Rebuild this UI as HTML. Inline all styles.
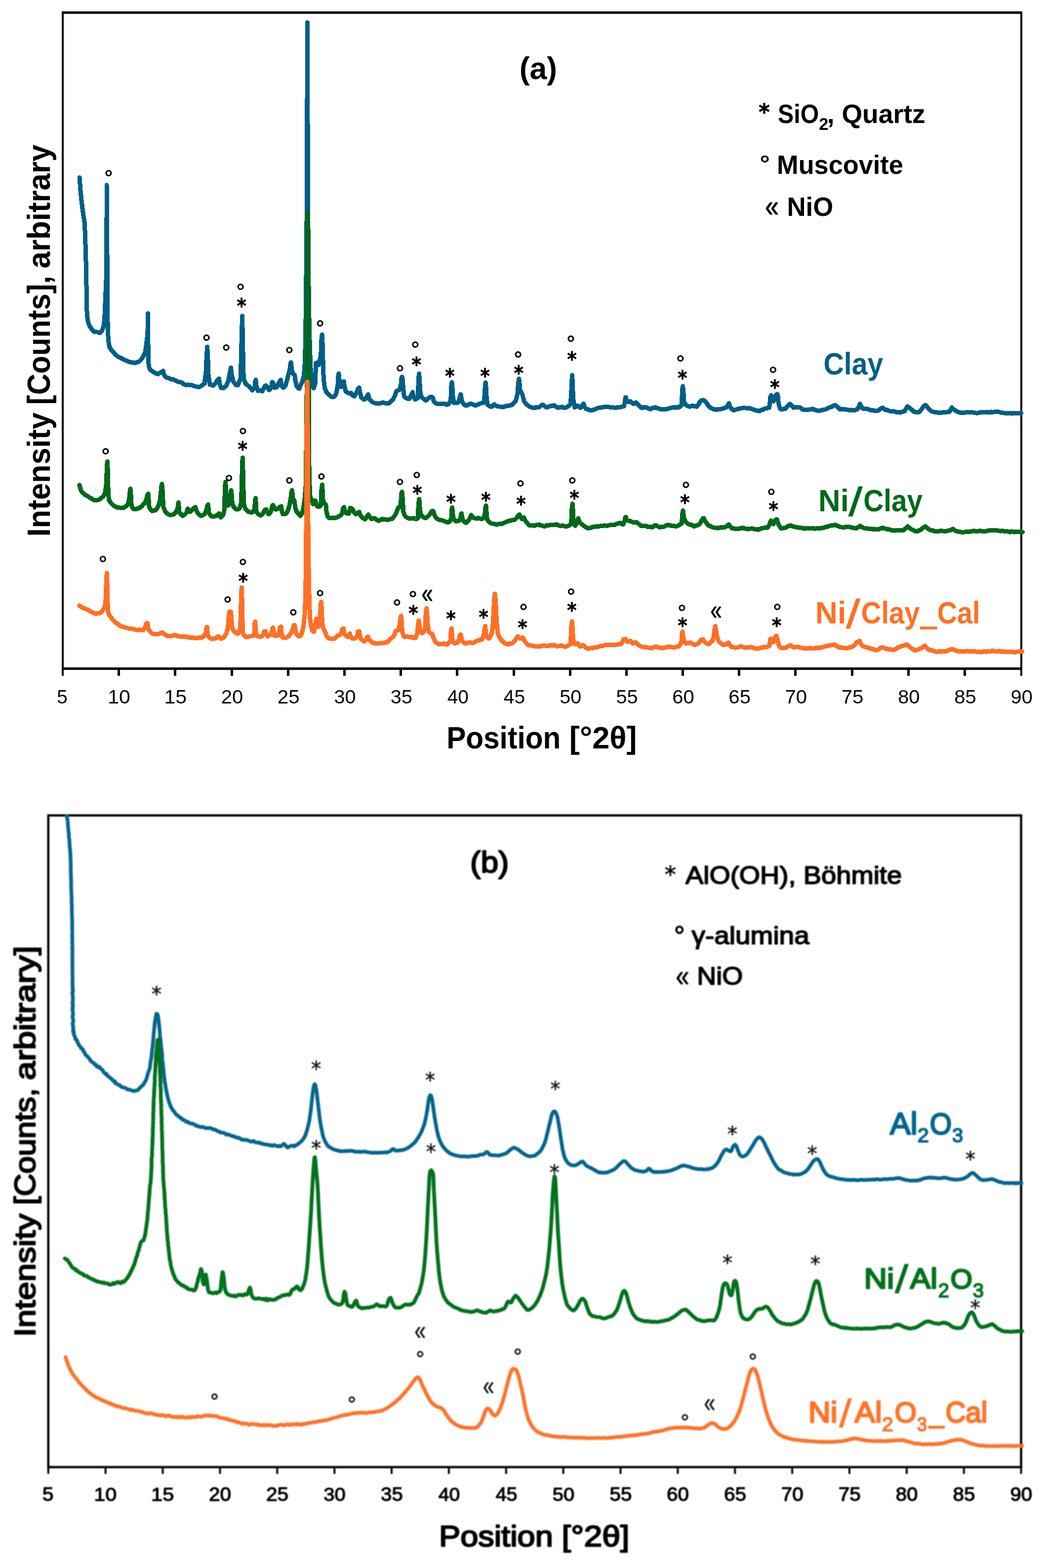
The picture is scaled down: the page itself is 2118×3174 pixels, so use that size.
<!DOCTYPE html>
<html lang="en"><head><meta charset="utf-8"><title>XRD patterns of clay and alumina supported Ni catalysts</title>
<style>html,body{margin:0;padding:0;background:#fff}body{width:2118px;height:3174px;overflow:hidden}svg{display:block}text{white-space:pre}</style></head><body>
<svg width="2118" height="3174" viewBox="0 0 2118 3174">
<rect width="2118" height="3174" fill="#fff"/>
<g id="chart-a">
<g shape-rendering="crispEdges" fill="#000">
<rect x="125" y="23" width="1945" height="5"/>
<rect x="125" y="1351" width="1945" height="5"/>
<rect x="125" y="23" width="4" height="1345"/>
<rect x="2066" y="23" width="4" height="1345"/>
<rect x="238" y="1351" width="5" height="17"/>
<rect x="352" y="1351" width="5" height="17"/>
<rect x="467" y="1351" width="5" height="17"/>
<rect x="581" y="1351" width="5" height="17"/>
<rect x="695" y="1351" width="5" height="17"/>
<rect x="809" y="1351" width="5" height="17"/>
<rect x="923" y="1351" width="5" height="17"/>
<rect x="1038" y="1351" width="5" height="17"/>
<rect x="1152" y="1351" width="5" height="17"/>
<rect x="1266" y="1351" width="5" height="17"/>
<rect x="1380" y="1351" width="5" height="17"/>
<rect x="1494" y="1351" width="5" height="17"/>
<rect x="1608" y="1351" width="5" height="17"/>
<rect x="1723" y="1351" width="5" height="17"/>
<rect x="1837" y="1351" width="5" height="17"/>
<rect x="1951" y="1351" width="5" height="17"/>
</g>
<g fill="none" stroke-linejoin="round" stroke-linecap="round" stroke-width="9.0" shape-rendering="crispEdges">
<path stroke="#005f86" d="M161.1 359.3L162.0 372.1L162.9 384.9L164.4 399.5L165.7 412.3L167.1 423.3L168.4 432.5L169.9 441.6L171.2 450.8L171.9 463.6L172.5 476.4L173.0 494.7L173.5 513.0L174.1 531.3L174.5 549.6L174.8 567.9L175.2 586.2L175.6 604.5L175.7 622.8L176.3 635.6L177.2 644.7L178.5 652.0L180.3 657.5L182.5 661.6L184.9 664.9L187.6 668.5L190.4 671.3L194.0 671.8L197.7 672.2L200.1 673.3L202.3 674.0L204.7 671.8L206.9 668.5L209.0 663.0L210.5 655.7L211.8 641.1L212.7 622.8L213.4 604.5L214.2 586.2L215.0 567.9L215.6 540.4L215.9 513.0L216.0 439.8L216.0 374.6L216.1 439.8L216.6 476.4L217.0 513.0L217.3 567.9L217.5 622.8L218.0 652.0L218.8 677.7L220.0 692.3L221.5 701.5L224.1 706.6L227.0 710.6L229.3 712.3L231.6 715.4L233.8 718.3L236.1 719.8L239.3 722.3L242.5 723.8L245.7 724.9L248.9 727.1L252.1 728.5L255.3 730.0L258.5 731.2L261.7 732.6L264.9 733.5L268.2 733.8L271.4 734.7L274.6 734.4L276.6 733.0L278.6 733.3L281.9 731.6L284.8 728.9L287.7 725.2L290.7 720.1L293.7 714.3L295.2 705.5L296.4 696.0L297.6 686.8L298.7 677.7L299.4 659.4L299.8 634.1L299.9 659.4L300.0 696.0L300.4 723.4L300.9 736.2L302.0 743.5L304.2 748.5L306.4 750.1L308.4 751.4L310.8 753.1L313.0 754.5L316.6 756.3L320.3 757.3L322.5 754.9L324.6 754.5L327.2 752.9L330.4 750.7L331.7 757.7L334.8 762.5L337.8 764.5L340.8 765.1L343.8 766.6L347.0 768.1L350.2 767.6L353.3 769.4L356.5 770.5L360.0 772.5L363.5 773.6L366.4 773.9L369.3 775.2L371.7 777.7L374.1 778.4L377.8 779.8L381.5 778.6L385.2 780.0L389.2 779.9L393.2 781.6L397.2 782.5L401.2 783.2L404.4 783.1L407.6 781.3L410.8 778.8L414.0 776.8L417.1 751.3L418.4 719.4L419.7 701.9L420.9 725.8L421.9 757.7L424.8 778.4L428.2 779.0L431.5 780.7L433.7 778.6L435.9 776.8L439.7 770.5L443.6 766.6L444.7 776.8L447.7 785.1L449.9 784.5L452.2 785.8L455.0 783.1L457.9 781.6L460.2 775.9L462.5 770.5L465.4 754.5L467.5 744.3L469.1 757.7L472.1 772.1L474.8 775.7L477.6 779.4L481.5 780.0L484.2 773.1L487.0 767.3L488.4 725.8L489.3 681.2L490.5 639.7L491.4 681.2L492.4 732.2L493.3 767.3L495.5 771.8L497.7 777.5L500.4 779.0L503.2 781.6L506.9 784.8L510.9 790.2L513.5 786.6L516.1 783.2L517.1 770.5L517.9 768.9L518.8 780.0L522.3 791.2L524.7 790.3L527.1 790.2L529.2 790.2L531.3 792.1L535.2 783.2L538.3 780.0L541.0 783.2L544.7 789.6L547.0 787.9L549.3 784.8L551.0 773.6L552.7 774.3L554.7 779.7L556.8 784.8L558.9 784.3L561.0 783.2L563.1 777.8L565.2 773.6L568.6 768.9L569.7 780.0L573.4 784.8L575.8 783.4L578.3 780.0L582.6 764.1L586.8 748.1L588.2 735.4L589.3 733.8L590.6 748.1L593.6 757.1L596.7 759.3L598.1 770.5L600.9 781.6L603.4 785.1L605.9 787.0L608.8 779.0L612.5 772.0L615.5 760.0L617.2 735.0L618.2 700.0L619.5 613.0L621.0 450.0L621.9 250.0L622.4 45.5L623.0 250.0L623.9 450.0L625.3 613.0L627.3 700.0L628.6 735.0L629.6 760.0L632.0 780.0L635.2 786.0L638.6 775.0L639.2 745.0L639.6 735.0L640.3 735.4L642.9 733.8L645.4 738.6L649.7 719.4L651.0 687.6L652.1 677.3L653.2 697.1L654.2 735.4L655.3 767.3L657.5 784.8L661.2 794.4L663.5 796.0L665.7 799.2L668.2 800.7L670.6 803.0L673.0 803.9L675.4 803.9L678.1 801.2L680.7 797.6L683.9 780.0L685.0 760.9L685.9 756.1L686.9 767.3L690.1 783.2L692.1 780.9L694.1 776.8L696.1 772.1L697.3 780.0L699.8 792.1L702.7 793.9L705.7 796.0L708.1 796.3L710.5 795.3L714.2 800.8L717.5 802.3L720.1 797.9L722.8 792.8L725.2 786.4L727.4 784.8L728.5 792.8L731.6 804.9L734.1 806.4L736.6 808.7L738.7 808.1L740.7 807.1L743.7 800.8L745.6 798.5L747.0 805.5L749.4 809.5L751.8 811.9L755.1 814.5L758.3 815.7L761.5 816.4L764.7 817.0L766.4 817.0L769.6 816.4L772.8 815.4L775.9 814.8L779.1 816.0L782.3 816.0L785.5 817.0L787.9 816.0L790.3 813.8L793.0 811.2L795.7 809.0L797.7 804.4L799.7 801.0L802.1 793.1L804.6 790.5L807.0 790.0L809.4 789.2L812.0 777.1L812.9 766.0L814.2 762.8L815.3 767.6L816.3 783.5L818.3 802.6L821.0 804.9L823.8 806.5L826.2 807.3L828.6 807.4L830.8 803.2L833.0 799.4L835.6 793.7L836.8 801.0L840.4 809.0L843.2 807.3L846.1 805.8L846.9 783.5L847.7 764.4L848.6 756.4L849.6 767.6L850.6 789.9L852.9 803.3L855.5 805.4L858.1 807.4L862.0 810.6L864.1 809.6L866.2 807.4L870.0 804.2L873.8 803.3L876.8 805.2L878.2 812.2L881.8 816.0L884.7 817.0L887.6 817.9L890.7 817.4L893.9 817.3L897.1 817.1L900.3 817.0L904.1 819.2L908.1 818.6L910.4 814.4L912.7 812.2L913.5 789.9L914.2 777.1L915.0 773.9L915.8 780.3L916.7 799.4L919.0 815.4L921.6 814.8L924.2 816.0L926.6 815.3L928.9 813.8L931.4 802.6L932.5 798.5L933.6 799.4L934.6 810.6L938.0 817.0L940.7 820.0L943.4 821.1L945.7 820.4L948.1 819.2L951.3 817.9L954.5 817.0L958.3 819.2L960.4 819.5L962.5 821.1L964.6 820.2L966.6 819.2L970.5 817.9L974.3 816.0L977.2 815.9L980.2 813.8L981.5 796.2L982.3 780.3L983.2 774.6L984.2 783.5L985.1 802.6L986.8 818.6L989.5 821.0L992.1 822.4L995.3 823.4L998.6 820.2L1000.8 818.6L1003.9 821.1L1007.1 822.4L1011.1 823.0L1015.1 823.4L1018.3 824.1L1021.5 823.4L1024.7 822.0L1027.9 821.8L1031.0 821.0L1034.2 820.2L1036.7 819.5L1039.1 817.0L1041.8 814.4L1044.4 811.6L1048.0 796.2L1049.4 777.1L1050.8 766.9L1052.1 777.1L1053.3 791.5L1056.8 796.2L1058.5 801.0L1061.1 812.2L1063.5 815.3L1065.8 818.6L1068.4 820.0L1070.9 822.4L1073.3 823.5L1075.7 824.3L1079.7 825.9L1083.7 825.6L1086.1 824.0L1088.4 824.3L1090.8 824.4L1093.2 823.4L1096.4 820.2L1099.6 819.2L1102.8 822.4L1106.0 824.3L1108.1 824.5L1110.1 823.4L1114.0 822.4L1117.8 821.1L1119.9 821.4L1121.9 820.2L1124.0 822.2L1126.1 823.4L1129.9 825.6L1133.7 824.3L1135.8 824.5L1137.9 823.4L1141.1 824.9L1144.2 825.6L1146.7 824.5L1149.1 823.4L1152.1 821.1L1155.1 818.6L1156.7 799.4L1157.6 773.9L1158.6 759.6L1159.6 777.1L1160.4 805.8L1163.7 824.9L1166.6 822.4L1169.8 821.1L1172.9 823.7L1176.1 825.6L1179.6 820.2L1181.6 817.0L1183.2 823.4L1185.2 825.6L1187.3 828.1L1189.7 828.0L1192.1 829.7L1195.3 830.8L1198.5 830.4L1202.4 829.4L1206.4 828.1L1209.6 826.3L1212.8 825.6L1216.8 825.0L1220.8 824.3L1224.0 823.8L1227.2 823.4L1231.1 823.5L1235.1 824.3L1238.3 824.3L1241.5 824.9L1243.9 825.1L1246.4 825.2L1249.6 824.9L1252.8 824.2L1255.6 824.1L1258.5 823.6L1260.9 823.0L1263.2 822.6L1265.5 813.1L1266.3 806.0L1267.1 804.1L1268.1 808.3L1270.8 813.1L1273.8 813.7L1276.7 812.4L1279.8 815.6L1283.0 817.8L1285.6 815.6L1287.8 814.7L1290.3 816.9L1292.4 819.4L1295.7 823.3L1299.0 825.8L1301.1 824.6L1303.1 825.2L1307.0 824.2L1309.4 824.8L1311.7 826.5L1314.1 826.8L1316.5 828.4L1318.9 827.3L1321.3 825.8L1323.7 825.7L1326.1 824.2L1328.5 825.6L1330.9 825.8L1333.3 827.2L1335.7 827.4L1338.1 828.5L1340.4 828.4L1342.8 828.2L1345.2 829.0L1348.4 828.9L1351.6 827.4L1354.8 827.0L1358.0 825.8L1361.2 824.7L1364.4 825.2L1367.6 824.2L1370.7 825.2L1373.1 823.7L1375.5 824.2L1377.9 822.3L1380.3 819.4L1381.1 800.3L1381.7 787.6L1382.5 781.8L1383.3 787.6L1384.3 800.3L1385.1 813.1L1388.4 819.4L1390.4 820.2L1392.4 822.0L1396.2 823.3L1399.4 822.0L1402.6 821.0L1406.5 822.6L1408.5 822.2L1410.6 823.3L1414.4 818.8L1417.2 813.1L1420.5 810.5L1424.3 809.9L1428.1 812.4L1431.0 816.2L1434.9 822.0L1437.1 824.2L1439.3 825.8L1442.0 826.8L1444.7 828.4L1447.6 828.1L1450.5 829.6L1453.6 828.3L1456.8 828.4L1460.0 827.9L1463.2 827.4L1465.6 825.9L1468.0 825.8L1471.3 824.2L1474.4 819.4L1476.0 816.2L1477.2 819.4L1479.8 825.8L1482.9 829.0L1485.5 830.6L1487.9 829.3L1490.3 829.0L1492.7 828.6L1495.1 827.4L1498.3 826.8L1501.5 826.5L1504.7 825.8L1507.9 825.8L1511.0 826.1L1514.2 826.5L1517.4 826.0L1520.6 827.4L1523.0 828.0L1525.4 829.0L1527.8 829.6L1530.2 830.6L1534.0 831.6L1536.1 831.3L1538.2 832.2L1540.5 830.1L1542.9 829.6L1545.3 829.3L1547.7 827.4L1550.1 827.0L1552.5 826.5L1555.0 825.2L1557.5 825.2L1559.2 813.1L1560.0 803.5L1561.4 800.3L1562.5 805.1L1565.9 812.4L1567.9 809.0L1570.0 805.1L1571.0 799.7L1574.2 797.8L1575.3 803.5L1576.3 816.2L1579.5 827.4L1581.9 828.8L1584.4 829.0L1587.6 827.2L1590.8 827.4L1592.8 824.1L1594.8 822.6L1597.2 819.4L1599.7 817.8L1602.8 821.0L1606.7 825.2L1609.6 824.2L1612.4 824.5L1615.2 824.8L1617.9 824.2L1619.9 824.7L1622.0 826.5L1625.8 829.0L1629.0 829.6L1632.2 829.3L1635.4 829.5L1638.6 829.0L1641.0 828.8L1643.4 828.4L1645.8 827.8L1648.2 828.4L1650.6 830.1L1652.9 830.0L1655.3 831.4L1657.7 831.6L1660.9 831.0L1664.1 830.3L1667.3 829.1L1670.5 829.0L1673.4 828.0L1676.2 826.5L1678.9 825.1L1681.6 824.2L1684.0 823.3L1686.4 822.0L1688.8 820.7L1691.2 820.1L1693.3 821.9L1695.3 823.3L1699.0 827.4L1700.0 828.5L1704.0 827.9L1708.0 829.0L1712.0 828.8L1716.0 829.3L1720.0 830.5L1724.0 829.8L1728.0 830.7L1732.0 830.1L1734.1 828.9L1736.3 828.5L1739.7 821.3L1741.3 817.3L1743.3 821.3L1746.6 826.6L1749.3 827.7L1752.0 827.4L1755.3 827.6L1758.7 828.5L1762.6 830.2L1766.6 830.1L1770.6 831.5L1774.6 832.0L1777.3 831.1L1780.0 830.6L1782.0 828.1L1784.0 826.6L1787.2 825.3L1790.1 828.0L1793.3 830.1L1796.6 829.8L1800.0 831.4L1803.3 832.8L1806.6 832.8L1810.0 832.4L1813.3 833.8L1816.6 834.9L1820.0 834.6L1823.3 835.1L1826.6 833.8L1829.3 833.0L1832.1 832.0L1835.4 825.8L1837.3 822.6L1840.5 824.8L1843.9 828.0L1845.9 828.9L1847.9 831.2L1850.0 833.2L1852.0 833.8L1856.0 834.6L1860.0 834.6L1862.1 833.6L1864.1 830.6L1866.2 828.4L1868.2 825.3L1871.2 821.3L1873.8 820.0L1876.6 822.6L1879.8 826.6L1883.4 830.1L1886.6 832.8L1889.9 833.6L1893.3 834.4L1896.6 834.6L1899.9 835.4L1903.3 835.0L1906.6 835.2L1909.9 834.3L1913.3 834.6L1915.9 834.7L1918.6 834.1L1920.7 833.6L1922.7 833.3L1926.0 827.4L1927.4 824.8L1930.0 827.4L1933.3 830.6L1935.9 831.6L1938.6 833.8L1941.9 834.1L1945.3 836.0L1949.3 835.9L1953.3 835.2L1957.3 834.5L1961.3 834.6L1964.8 834.8L1968.4 834.6L1971.9 835.2L1975.5 836.0L1979.0 836.1L1982.6 835.4L1986.6 834.2L1990.6 834.3L1994.6 834.6L1998.6 834.0L2002.6 835.1L2006.6 833.8L2009.9 834.4L2013.2 833.8L2016.6 833.5L2019.9 833.8L2023.2 833.9L2026.6 835.2L2029.9 835.9L2033.2 836.0L2036.4 836.7L2039.5 837.0L2042.6 836.2L2045.7 836.0L2048.8 837.2L2051.9 836.5L2055.9 836.9L2059.9 836.5L2063.9 836.5L2067.9 836.5"/>
<path stroke="#00691a" d="M160.8 981.9L162.4 987.3L164.1 993.1L166.7 996.7L169.3 998.5L171.8 1001.5L174.2 1002.6L177.4 1004.0L180.6 1007.1L183.8 1008.0L187.0 1010.6L189.8 1012.1L192.7 1012.2L195.4 1012.7L198.1 1012.2L200.8 1011.3L203.6 1009.6L206.0 1007.3L208.4 1005.8L210.5 1002.0L212.6 997.8L214.9 983.5L215.7 967.6L216.3 948.4L217.3 934.1L218.1 950.0L218.7 973.9L219.3 999.4L220.7 1012.2L222.9 1015.6L225.1 1018.6L228.3 1021.8L230.8 1023.8L233.2 1025.6L235.6 1025.9L238.0 1027.5L240.9 1027.7L243.7 1028.1L246.4 1027.9L249.1 1028.1L251.2 1027.3L253.3 1025.6L255.9 1024.7L258.5 1021.8L261.7 1010.6L262.7 997.8L264.1 989.2L265.1 1002.6L265.9 1018.6L267.4 1026.5L269.4 1029.5L271.5 1030.7L274.2 1030.5L276.9 1030.1L279.8 1029.0L282.6 1028.1L285.2 1025.8L287.8 1024.3L290.5 1020.5L293.1 1018.6L296.6 1010.6L298.3 1002.6L300.2 999.4L301.1 1012.2L301.9 1024.9L304.5 1031.3L308.1 1034.5L310.2 1033.3L312.3 1033.9L314.5 1032.5L316.7 1031.3L318.8 1027.0L321.0 1023.4L324.1 1012.2L325.8 996.2L327.0 983.5L327.9 979.7L328.9 989.9L329.8 1009.0L331.0 1026.5L334.4 1035.2L336.5 1037.1L338.6 1039.6L341.6 1041.5L344.0 1042.6L346.4 1042.2L348.8 1041.9L351.2 1041.5L353.2 1039.7L355.3 1037.7L357.4 1034.0L359.5 1031.3L360.4 1021.8L361.4 1017.0L362.3 1028.1L363.1 1037.7L365.2 1039.0L367.3 1042.2L370.3 1044.1L373.9 1041.5L377.8 1037.7L379.4 1031.3L380.2 1029.7L382.0 1032.9L384.7 1036.1L388.0 1032.9L391.1 1029.7L393.6 1027.5L395.8 1026.5L396.9 1031.3L399.7 1037.7L403.7 1042.2L407.0 1044.1L410.2 1043.1L414.1 1040.9L417.8 1032.9L419.6 1024.3L421.3 1021.1L422.3 1029.7L423.1 1038.3L426.5 1043.4L429.3 1045.7L431.7 1045.2L434.1 1045.4L436.5 1044.0L438.9 1044.1L441.5 1040.9L443.7 1039.3L444.5 1044.1L447.2 1047.3L449.4 1044.9L451.6 1042.5L454.2 1032.9L455.0 1005.8L455.8 983.5L456.7 975.5L457.5 989.9L458.3 1012.2L461.5 1023.4L463.6 1022.0L465.7 1018.6L466.6 1002.6L467.4 994.7L468.2 992.4L469.2 1002.6L470.3 1018.6L473.2 1026.5L477.1 1030.4L480.3 1031.3L482.6 1030.9L484.9 1029.7L488.3 1018.6L489.1 993.1L489.9 964.4L490.5 942.0L491.2 926.7L491.8 942.0L492.4 967.6L493.2 999.4L494.1 1021.8L497.0 1030.7L499.0 1032.0L501.0 1034.5L503.4 1036.3L505.8 1036.4L508.2 1037.3L510.6 1037.1L512.9 1034.7L515.2 1031.3L516.2 1018.6L517.0 1010.6L517.6 1008.4L518.4 1021.8L519.2 1036.1L521.7 1039.6L524.2 1041.5L528.2 1043.4L531.7 1040.3L535.0 1034.5L537.1 1032.0L539.3 1031.3L540.6 1036.1L544.1 1040.9L546.2 1039.0L548.2 1036.1L550.5 1028.1L551.5 1023.7L553.0 1022.4L555.0 1027.5L558.5 1031.3L561.6 1030.1L564.8 1028.1L567.4 1025.9L569.6 1024.9L570.6 1034.5L573.1 1040.9L576.0 1040.9L579.8 1039.3L581.8 1035.9L583.8 1031.3L586.4 1021.8L588.9 1007.4L590.0 996.9L591.3 992.4L592.4 1001.0L593.2 1009.0L596.1 1013.8L596.4 1016.0L597.7 1026.5L600.3 1035.2L602.4 1037.4L604.4 1040.3L607.9 1042.5L608.4 1044.5L611.0 1040.0L614.0 1030.0L617.1 1009.0L619.4 980.0L620.3 880.0L621.0 800.0L621.9 655.0L622.4 500.0L622.8 430.5L623.2 500.0L623.7 560.0L624.7 655.0L625.5 800.0L625.6 930.0L626.5 960.0L627.2 990.0L628.0 1003.0L629.8 1011.0L632.0 1013.5L633.6 1020.2L635.8 1013.8L639.0 1013.8L639.8 1019.2L642.1 1024.9L645.1 1025.6L647.2 1025.4L649.4 1023.4L650.3 1010.6L651.0 991.5L652.4 980.9L653.3 996.2L654.1 1012.2L656.9 1019.2L659.9 1021.8L660.1 1024.0L661.1 1036.1L663.9 1046.6L666.3 1048.7L668.6 1048.9L672.5 1048.9L674.9 1047.9L677.3 1048.2L679.6 1048.3L682.0 1047.3L684.1 1046.6L686.2 1045.0L688.4 1043.7L690.6 1042.5L693.8 1036.1L694.1 1030.1L696.7 1026.5L697.8 1032.9L700.3 1038.3L703.4 1039.9L706.6 1039.3L708.3 1032.9L709.1 1028.1L711.4 1028.8L713.7 1030.7L716.5 1036.1L720.3 1040.9L724.1 1038.3L727.3 1036.1L728.9 1041.5L732.8 1047.3L736.2 1049.8L739.4 1051.1L743.1 1045.7L745.8 1041.5L748.6 1046.3L752.2 1050.5L755.4 1049.8L758.6 1048.9L762.4 1052.1L764.5 1053.2L766.5 1054.3L768.6 1053.3L770.7 1052.4L774.5 1050.5L776.9 1051.8L779.3 1051.4L781.7 1051.7L784.1 1052.1L786.5 1052.2L788.9 1051.1L791.3 1050.5L793.7 1050.5L797.3 1046.6L801.1 1040.9L803.9 1034.5L805.5 1029.7L807.2 1026.9L809.4 1026.7L811.5 1024.9L812.1 1009.0L812.9 998.8L814.1 995.6L815.0 1005.8L816.0 1021.8L816.8 1036.1L820.2 1044.7L822.6 1047.1L824.9 1047.9L828.7 1049.8L831.1 1049.4L833.5 1049.2L835.9 1049.2L838.3 1048.9L841.5 1050.5L843.9 1050.5L846.3 1048.9L846.9 1031.3L847.7 1017.0L848.8 1010.0L849.6 1020.2L850.4 1031.3L851.9 1040.3L855.8 1046.0L859.3 1047.9L862.5 1048.9L865.8 1045.7L869.2 1042.5L871.9 1038.3L874.0 1035.2L876.6 1034.5L877.8 1035.5L879.2 1041.5L882.4 1047.3L884.6 1049.6L886.7 1051.1L888.8 1052.0L890.9 1053.0L893.0 1052.8L895.1 1053.6L898.9 1054.3L902.7 1056.2L904.8 1056.5L906.8 1057.5L910.4 1055.6L913.9 1050.5L914.5 1034.5L915.1 1028.1L915.8 1027.5L916.6 1036.1L917.4 1045.7L919.6 1052.1L923.1 1055.2L926.3 1054.9L929.9 1053.6L932.7 1047.3L933.6 1040.9L934.6 1039.3L935.5 1045.7L937.3 1053.6L940.9 1056.8L943.5 1058.4L947.0 1055.2L950.8 1050.5L952.7 1045.7L954.0 1042.5L956.4 1045.7L959.5 1048.9L963.3 1049.2L965.4 1049.4L967.4 1048.9L969.5 1048.7L971.6 1049.8L975.4 1050.5L977.7 1049.4L980.0 1046.6L982.3 1037.7L982.9 1028.1L984.0 1023.4L984.8 1032.9L985.6 1044.1L986.7 1052.1L990.4 1056.8L993.9 1059.1L997.7 1060.0L1000.1 1060.0L1002.5 1061.0L1004.9 1062.1L1007.3 1061.6L1010.5 1060.4L1013.7 1060.0L1016.9 1060.1L1020.1 1058.4L1023.2 1057.6L1026.4 1055.9L1029.6 1054.8L1032.8 1053.6L1035.2 1053.2L1037.6 1052.7L1040.0 1052.7L1042.4 1052.1L1045.8 1048.9L1048.9 1044.1L1051.9 1041.5L1053.6 1045.7L1056.7 1050.5L1058.7 1048.9L1060.9 1047.3L1062.7 1052.1L1065.9 1056.8L1069.2 1060.7L1071.2 1063.4L1073.9 1063.8L1076.6 1064.0L1079.5 1063.8L1082.3 1064.3L1084.7 1062.9L1087.1 1062.7L1089.5 1062.3L1091.9 1061.8L1094.8 1063.7L1097.6 1064.0L1100.3 1065.0L1103.0 1065.6L1105.8 1063.8L1108.5 1063.7L1111.3 1063.7L1114.2 1062.4L1117.1 1062.7L1119.9 1062.1L1122.7 1062.7L1125.4 1061.8L1128.1 1061.9L1130.8 1063.4L1133.7 1064.3L1136.5 1064.3L1139.4 1063.7L1142.3 1064.9L1145.0 1065.6L1147.7 1065.6L1151.5 1064.3L1154.0 1062.3L1156.5 1061.1L1157.3 1045.8L1157.9 1029.9L1159.2 1019.7L1160.0 1029.9L1160.6 1042.6L1161.2 1058.6L1164.6 1064.3L1168.4 1057.0L1169.2 1052.2L1171.0 1049.0L1172.1 1053.8L1174.9 1058.6L1178.0 1061.1L1181.2 1063.4L1185.0 1066.5L1187.1 1067.1L1189.1 1068.8L1191.2 1069.5L1193.3 1068.8L1197.1 1068.1L1199.5 1066.7L1201.9 1066.9L1204.3 1066.3L1206.7 1065.6L1209.9 1066.1L1213.1 1065.3L1216.3 1064.6L1219.4 1064.9L1222.6 1063.9L1225.8 1064.0L1229.0 1064.4L1232.2 1063.4L1235.4 1062.9L1238.6 1062.7L1241.8 1063.0L1244.9 1062.4L1247.5 1060.5L1250.1 1060.5L1252.6 1059.3L1255.2 1058.6L1258.3 1060.5L1261.5 1061.8L1265.2 1053.8L1265.5 1049.0L1267.3 1046.5L1268.3 1050.6L1271.1 1053.8L1274.0 1054.4L1276.8 1054.7L1280.0 1056.7L1283.2 1057.9L1286.4 1057.3L1289.6 1057.0L1293.4 1060.8L1295.5 1061.9L1297.6 1064.3L1300.3 1065.0L1303.0 1064.9L1305.9 1064.1L1308.7 1064.9L1311.6 1066.7L1314.5 1066.5L1317.2 1066.1L1319.9 1067.5L1322.0 1066.7L1324.0 1064.9L1326.3 1063.2L1328.5 1063.4L1332.0 1065.6L1335.8 1067.5L1338.2 1066.5L1340.6 1066.5L1343.0 1066.7L1345.4 1065.6L1348.9 1063.7L1352.7 1062.4L1356.6 1064.0L1358.9 1063.8L1361.3 1064.9L1363.7 1064.3L1366.1 1064.9L1368.5 1065.3L1370.9 1064.9L1374.7 1063.0L1377.4 1061.4L1380.0 1060.2L1381.3 1049.0L1381.9 1038.8L1383.0 1033.7L1384.0 1041.0L1384.9 1049.0L1387.5 1054.7L1390.9 1058.6L1394.5 1060.8L1398.0 1062.4L1400.4 1062.3L1402.8 1064.0L1405.2 1065.5L1407.6 1064.9L1409.6 1063.5L1411.7 1063.4L1415.6 1061.8L1419.2 1057.0L1421.5 1052.2L1423.2 1049.6L1425.1 1049.0L1426.7 1052.8L1429.4 1057.0L1432.8 1061.8L1436.3 1064.9L1438.7 1065.0L1441.1 1066.9L1443.5 1067.2L1445.8 1068.1L1448.2 1068.5L1450.6 1068.5L1453.0 1069.1L1455.4 1068.8L1458.3 1067.7L1461.1 1068.1L1463.9 1067.5L1466.6 1067.5L1469.8 1066.2L1472.0 1064.9L1473.9 1062.7L1475.8 1061.8L1478.8 1065.9L1482.5 1069.7L1485.2 1069.1L1487.9 1070.4L1490.8 1070.4L1493.7 1070.7L1496.1 1070.6L1498.5 1069.4L1500.8 1069.3L1503.2 1068.1L1505.6 1069.6L1508.0 1069.4L1510.4 1070.6L1512.8 1070.7L1515.2 1071.1L1517.6 1070.1L1520.0 1070.3L1522.4 1069.7L1525.6 1070.5L1528.7 1071.3L1531.9 1071.3L1535.1 1072.3L1537.6 1071.5L1540.0 1070.0L1543.6 1069.1L1547.1 1068.9L1550.7 1067.8L1554.3 1068.2L1558.2 1062.1L1559.3 1057.5L1561.4 1053.9L1562.9 1057.1L1565.7 1061.1L1568.8 1056.4L1570.4 1052.1L1573.2 1051.4L1574.3 1055.7L1576.2 1061.1L1579.1 1066.4L1582.1 1070.0L1585.2 1069.0L1588.2 1068.2L1590.9 1068.1L1593.6 1066.4L1595.7 1064.8L1597.9 1064.6L1601.4 1063.6L1603.7 1064.8L1606.1 1065.7L1608.7 1066.2L1611.4 1067.1L1615.0 1067.7L1618.6 1068.2L1622.1 1068.0L1625.7 1069.3L1628.7 1070.3L1631.7 1069.0L1634.6 1069.6L1637.6 1070.0L1640.6 1069.7L1643.6 1070.0L1646.5 1069.0L1649.5 1070.1L1652.5 1070.0L1655.5 1069.3L1658.5 1069.1L1661.4 1070.0L1665.0 1068.2L1668.6 1068.2L1672.1 1066.6L1675.7 1066.4L1679.6 1064.4L1683.6 1063.9L1686.3 1063.6L1689.0 1062.8L1691.8 1062.1L1694.8 1064.5L1697.9 1065.0L1701.1 1066.9L1704.3 1067.1L1707.9 1068.0L1711.4 1066.8L1715.0 1066.1L1718.6 1066.4L1722.1 1067.2L1725.7 1068.2L1729.3 1068.6L1732.9 1070.0L1735.2 1068.8L1737.5 1067.1L1739.6 1066.1L1741.8 1064.6L1743.9 1066.5L1746.1 1067.1L1748.4 1068.6L1750.7 1069.3L1753.7 1069.3L1756.7 1070.1L1759.6 1070.7L1762.6 1071.1L1765.6 1070.4L1768.6 1071.8L1771.2 1070.9L1773.9 1071.8L1776.6 1071.6L1779.3 1071.8L1781.4 1070.1L1783.6 1070.0L1787.1 1068.2L1789.5 1069.6L1791.8 1070.0L1794.5 1070.4L1797.1 1071.8L1800.7 1071.7L1804.3 1073.2L1807.9 1073.1L1811.4 1074.3L1814.4 1073.6L1817.4 1073.5L1820.4 1073.9L1823.3 1073.9L1826.3 1073.6L1829.3 1073.6L1831.6 1071.0L1834.0 1069.3L1836.1 1067.8L1838.2 1065.7L1841.7 1068.9L1845.4 1071.8L1848.0 1072.3L1850.7 1073.9L1853.4 1075.5L1856.1 1075.4L1858.4 1075.4L1860.7 1073.6L1862.9 1073.1L1865.0 1071.8L1867.2 1069.9L1869.3 1068.2L1871.6 1067.0L1873.9 1065.7L1877.5 1068.9L1881.1 1071.8L1883.7 1073.0L1886.4 1073.9L1889.1 1073.7L1891.8 1075.4L1894.8 1075.2L1897.7 1075.4L1900.7 1075.4L1904.3 1074.7L1907.9 1074.5L1911.4 1075.4L1914.6 1075.6L1917.9 1074.6L1920.9 1073.8L1923.9 1073.6L1926.8 1071.8L1929.3 1070.7L1932.9 1073.2L1936.4 1075.4L1940.0 1075.9L1943.6 1076.4L1947.1 1077.6L1950.7 1077.1L1953.7 1077.0L1956.7 1076.0L1959.6 1076.1L1962.6 1076.8L1965.6 1075.3L1968.6 1075.4L1972.1 1074.4L1975.7 1075.7L1979.3 1075.4L1982.9 1074.6L1986.4 1075.0L1990.0 1075.4L1993.6 1075.7L1997.1 1075.0L2000.7 1074.3L2003.8 1073.1L2007.0 1073.8L2010.1 1073.6L2013.2 1073.6L2016.2 1073.9L2019.2 1073.7L2022.1 1074.6L2025.7 1075.1L2029.3 1074.3L2032.9 1075.4L2035.8 1075.2L2038.8 1075.6L2041.8 1076.1L2044.8 1077.1L2047.7 1075.5L2050.7 1076.4L2054.3 1077.1L2057.9 1076.1L2061.4 1076.8L2064.4 1077.0L2067.4 1076.8L2070.4 1077.1"/>
<path stroke="#ff7026" d="M160.8 1226.0L164.0 1228.2L167.8 1230.7L170.2 1231.0L172.6 1232.3L175.0 1233.2L177.4 1233.9L179.8 1235.3L182.2 1237.1L184.6 1238.6L187.0 1239.7L190.8 1241.3L192.9 1242.2L194.9 1242.5L197.3 1241.4L199.7 1241.9L203.6 1240.3L207.4 1236.5L209.5 1232.6L211.5 1230.7L213.8 1218.0L214.4 1205.2L215.0 1186.1L215.7 1168.6L216.3 1159.9L216.9 1176.5L217.6 1202.0L218.4 1237.1L221.1 1245.1L224.7 1249.9L227.3 1253.7L229.8 1256.2L232.3 1258.2L234.8 1261.0L238.0 1262.6L241.2 1265.2L244.4 1267.8L247.6 1268.4L251.5 1269.4L255.5 1270.6L259.5 1272.1L263.5 1272.2L267.5 1272.9L271.5 1273.8L275.5 1274.9L279.4 1275.4L282.3 1274.7L285.2 1275.4L287.9 1275.3L290.6 1274.7L294.3 1269.0L295.8 1262.6L298.6 1261.0L299.5 1267.4L300.9 1274.7L304.6 1279.2L308.1 1282.4L311.0 1283.6L313.9 1283.4L316.6 1283.4L319.3 1283.4L321.7 1283.0L324.1 1281.8L326.5 1281.3L328.9 1280.2L332.7 1283.4L334.8 1284.1L336.8 1286.5L339.2 1287.4L341.6 1287.2L344.0 1287.5L346.4 1287.5L348.8 1286.6L351.2 1286.5L353.6 1285.1L356.0 1285.6L358.4 1287.3L360.8 1287.5L363.1 1288.1L365.5 1288.8L367.9 1289.1L370.3 1288.5L372.7 1289.1L375.1 1288.1L378.3 1289.4L381.5 1289.7L384.7 1291.1L387.9 1290.7L391.0 1290.8L394.2 1291.3L397.4 1291.9L400.6 1291.3L403.0 1290.9L405.4 1290.7L407.8 1291.1L410.2 1289.7L413.5 1286.5L416.7 1281.8L417.7 1273.8L418.2 1270.6L419.1 1269.0L419.9 1277.0L420.7 1286.5L423.9 1290.7L426.8 1292.3L428.8 1293.4L430.9 1292.9L433.3 1292.1L435.7 1292.9L438.9 1290.1L442.1 1288.1L444.5 1290.7L446.8 1292.9L449.4 1292.3L451.7 1291.3L455.2 1287.5L458.4 1281.8L461.2 1272.2L462.5 1259.4L463.4 1245.1L464.4 1238.7L467.6 1238.7L468.5 1249.9L469.5 1264.2L471.2 1273.8L475.1 1279.2L478.7 1281.8L481.9 1282.4L484.2 1276.6L486.5 1272.2L487.3 1249.9L488.0 1224.4L488.6 1202.0L489.3 1189.3L489.9 1205.2L490.5 1233.9L491.2 1265.8L491.8 1281.8L495.5 1287.5L498.8 1289.7L502.7 1289.1L506.5 1288.1L509.7 1287.5L512.2 1286.5L514.8 1286.5L515.4 1272.2L516.0 1261.0L516.7 1258.5L517.3 1269.0L518.0 1280.2L520.1 1286.5L523.4 1288.8L526.6 1289.1L530.5 1288.1L533.9 1282.4L534.6 1278.6L537.7 1277.9L538.7 1283.4L541.6 1288.1L544.8 1286.5L548.4 1284.3L551.1 1277.0L551.8 1272.2L553.0 1270.6L553.8 1278.6L555.2 1286.5L558.8 1287.2L562.4 1286.5L565.7 1278.6L566.7 1270.6L569.0 1268.4L569.8 1278.6L570.6 1288.1L572.6 1290.3L574.7 1290.7L577.6 1291.3L580.8 1290.1L584.1 1288.1L587.9 1283.4L591.8 1277.0L594.1 1269.6L594.6 1265.8L596.7 1265.2L597.7 1272.2L598.6 1280.2L601.6 1284.9L604.7 1288.1L607.9 1287.2L610.5 1284.0L614.5 1268.0L617.0 1245.0L618.6 1211.0L619.2 1160.0L619.9 1100.0L620.3 1015.0L620.7 888.0L621.6 800.0L622.3 772.8L622.8 800.0L623.1 888.0L623.7 1015.0L624.3 1100.0L625.2 1160.0L626.2 1211.0L627.6 1250.0L630.0 1268.0L632.6 1277.0L635.8 1279.0L639.3 1259.4L640.6 1252.4L641.5 1257.8L644.1 1269.0L647.9 1259.4L648.7 1240.3L649.5 1224.4L650.2 1218.6L651.0 1227.6L651.7 1243.5L652.5 1259.4L654.1 1270.6L657.0 1276.0L658.7 1280.2L660.7 1286.5L663.9 1290.7L666.7 1292.3L669.3 1292.9L673.1 1293.2L675.2 1293.0L677.3 1292.9L680.5 1290.1L683.7 1286.5L686.2 1285.6L688.9 1284.9L692.1 1279.2L692.6 1273.8L695.4 1272.2L696.5 1278.6L698.5 1284.9L702.1 1288.1L705.0 1289.7L707.7 1285.6L708.5 1282.4L709.6 1288.1L713.3 1292.9L717.1 1292.6L720.8 1291.3L724.2 1284.9L724.5 1278.6L727.3 1277.9L728.3 1284.9L730.4 1292.9L732.5 1294.9L734.6 1296.4L737.8 1298.3L740.8 1295.2L742.9 1291.3L745.2 1288.8L746.2 1292.3L748.6 1296.1L752.2 1299.3L755.4 1301.5L757.8 1301.5L760.2 1302.2L762.6 1302.3L764.9 1302.5L767.3 1302.1L769.7 1302.2L772.1 1301.6L774.5 1301.5L776.9 1301.4L779.3 1300.9L781.7 1300.7L784.1 1300.3L786.8 1297.1L788.9 1294.5L792.1 1292.0L795.6 1289.7L799.1 1284.3L800.6 1278.6L802.6 1276.7L806.3 1275.4L809.3 1265.8L810.5 1253.1L812.1 1246.7L812.9 1254.7L813.7 1265.8L814.5 1278.6L817.4 1288.1L819.6 1289.3L821.7 1288.8L825.5 1288.8L827.9 1289.5L830.3 1289.4L832.7 1290.4L835.1 1289.7L838.9 1291.3L841.5 1291.3L845.5 1280.2L846.3 1265.8L847.9 1256.2L848.7 1261.0L849.5 1269.0L850.4 1277.0L854.2 1281.8L857.9 1279.2L860.8 1272.2L861.6 1256.2L862.2 1240.3L863.8 1231.4L864.6 1240.3L865.4 1253.1L866.2 1267.4L868.3 1278.6L870.8 1281.2L873.3 1282.4L876.0 1284.9L877.6 1291.3L880.7 1297.7L882.9 1300.6L885.1 1301.5L887.2 1303.1L889.3 1304.1L891.7 1303.1L894.1 1303.4L896.5 1303.7L898.9 1302.5L902.1 1304.1L905.3 1304.7L908.6 1301.5L912.1 1297.7L912.7 1284.9L913.4 1275.4L914.2 1272.2L915.0 1280.2L915.8 1291.3L916.9 1299.3L920.6 1302.5L923.4 1301.8L926.8 1300.9L930.2 1292.9L930.9 1286.5L933.0 1284.3L934.0 1289.7L935.0 1296.1L938.9 1300.3L941.9 1302.5L944.0 1302.9L946.1 1301.5L949.9 1300.3L953.7 1300.9L955.8 1302.0L957.9 1301.5L959.9 1300.6L962.0 1299.3L965.8 1297.1L968.2 1296.9L970.6 1295.8L973.3 1294.6L976.0 1294.5L979.8 1284.9L980.8 1275.4L982.4 1267.4L983.2 1275.4L984.0 1284.9L986.6 1290.1L989.8 1292.9L991.9 1290.4L994.0 1286.5L996.7 1278.6L998.7 1253.1L1000.0 1227.6L1001.1 1208.4L1002.2 1202.0L1003.3 1211.6L1004.4 1233.9L1005.7 1259.4L1007.8 1281.8L1010.0 1286.7L1012.2 1291.3L1014.4 1294.1L1016.6 1297.7L1019.1 1298.7L1021.6 1301.5L1024.0 1303.2L1026.4 1303.4L1028.8 1304.4L1031.2 1303.4L1033.6 1302.1L1036.0 1302.5L1038.1 1301.5L1040.2 1299.3L1042.3 1296.7L1044.3 1294.5L1046.8 1290.4L1048.8 1288.1L1051.2 1290.7L1053.5 1292.9L1056.1 1291.3L1058.3 1290.7L1060.4 1293.9L1062.5 1297.7L1066.0 1302.5L1069.5 1305.7L1072.8 1306.6L1075.9 1306.6L1079.1 1307.9L1082.3 1308.0L1085.5 1308.9L1088.7 1308.9L1091.9 1307.9L1095.1 1308.3L1098.3 1307.3L1101.5 1306.4L1104.6 1307.3L1107.8 1307.5L1111.0 1307.3L1113.9 1305.9L1116.8 1306.3L1119.5 1306.4L1122.2 1305.7L1125.4 1307.3L1128.6 1308.9L1130.6 1307.9L1132.7 1307.6L1136.5 1306.6L1138.9 1308.0L1141.3 1307.9L1143.7 1309.3L1146.1 1308.9L1149.9 1307.3L1152.4 1305.7L1154.9 1304.1L1156.0 1288.1L1156.6 1272.2L1158.2 1257.8L1159.0 1267.4L1159.8 1278.6L1160.4 1294.5L1164.0 1304.1L1166.8 1303.1L1170.0 1302.5L1172.2 1306.0L1174.8 1308.9L1178.0 1307.0L1180.5 1305.7L1184.0 1309.2L1187.6 1312.1L1190.7 1313.2L1193.9 1312.4L1197.1 1311.8L1200.3 1312.1L1203.5 1310.4L1206.7 1310.5L1209.9 1309.9L1213.1 1308.9L1217.0 1307.1L1221.0 1307.3L1225.0 1305.9L1229.0 1305.7L1233.0 1305.5L1237.0 1305.7L1241.0 1305.9L1244.9 1305.7L1248.1 1304.7L1251.3 1305.0L1254.5 1303.6L1257.7 1304.1L1261.2 1298.3L1262.5 1294.5L1264.6 1294.5L1266.6 1292.9L1267.9 1296.1L1270.5 1299.3L1273.6 1298.0L1276.8 1297.1L1279.2 1299.9L1281.6 1302.5L1284.5 1301.2L1287.0 1300.3L1289.3 1301.8L1291.5 1304.1L1293.7 1306.6L1296.0 1307.3L1299.2 1309.0L1302.3 1309.2L1305.5 1309.6L1308.7 1310.5L1311.6 1310.9L1314.5 1311.4L1317.2 1311.8L1319.9 1312.1L1322.0 1311.4L1324.0 1310.1L1327.9 1308.9L1331.0 1310.0L1334.2 1310.8L1337.4 1311.5L1340.6 1312.1L1343.8 1311.5L1347.0 1310.5L1350.2 1310.5L1353.4 1308.9L1355.8 1309.4L1358.2 1309.8L1360.5 1310.0L1362.9 1310.5L1365.8 1310.4L1368.7 1309.5L1371.4 1308.7L1374.1 1308.9L1377.9 1304.1L1380.2 1297.7L1380.6 1288.1L1381.1 1281.1L1382.1 1278.6L1382.9 1284.9L1383.7 1291.3L1385.4 1297.7L1389.1 1302.5L1391.3 1301.5L1393.5 1301.2L1395.8 1301.7L1398.0 1300.3L1400.1 1301.7L1402.1 1303.1L1406.0 1305.7L1408.1 1305.0L1410.1 1304.1L1414.0 1302.5L1417.4 1298.3L1419.7 1295.2L1423.5 1294.5L1425.7 1297.7L1428.2 1300.9L1431.5 1302.8L1434.7 1304.1L1438.0 1301.5L1440.3 1298.6L1442.7 1297.7L1445.3 1288.1L1446.3 1278.6L1447.3 1270.6L1448.4 1267.4L1449.5 1273.8L1450.6 1281.8L1452.5 1291.3L1456.1 1299.3L1458.4 1301.0L1460.8 1303.1L1462.9 1304.6L1465.0 1305.7L1468.2 1304.7L1471.4 1304.1L1473.3 1301.8L1475.2 1300.9L1477.5 1305.7L1480.9 1309.8L1483.3 1309.2L1485.7 1310.5L1488.1 1311.0L1490.5 1311.1L1493.4 1310.7L1496.2 1309.8L1498.9 1308.5L1501.6 1308.9L1503.7 1309.8L1505.8 1310.1L1509.6 1311.1L1512.0 1310.7L1514.4 1310.5L1516.8 1310.5L1519.2 1309.8L1522.4 1310.3L1525.6 1311.4L1528.7 1312.6L1531.9 1313.0L1535.1 1313.0L1538.3 1312.1L1541.5 1310.6L1544.7 1311.1L1547.1 1309.7L1549.5 1310.1L1551.9 1309.9L1554.3 1308.9L1558.2 1307.1L1559.3 1298.2L1559.8 1293.8L1560.9 1292.9L1563.1 1297.3L1565.8 1300.0L1569.7 1291.5L1569.9 1288.4L1572.0 1287.1L1573.3 1291.5L1574.7 1296.0L1576.7 1304.9L1578.8 1309.2L1580.9 1311.6L1583.2 1311.1L1585.4 1311.6L1587.6 1311.5L1589.9 1311.6L1592.6 1310.2L1595.2 1308.5L1597.7 1307.0L1600.1 1306.2L1602.2 1307.3L1604.2 1308.9L1607.7 1310.7L1610.0 1309.9L1612.2 1309.8L1614.4 1309.3L1616.7 1309.4L1619.6 1310.5L1622.5 1311.2L1625.1 1311.4L1627.8 1312.5L1630.8 1312.3L1633.8 1313.0L1636.8 1312.5L1639.7 1311.6L1642.7 1312.6L1645.7 1312.5L1648.7 1312.7L1651.6 1311.5L1654.6 1311.6L1657.6 1310.8L1660.6 1311.6L1663.5 1310.7L1666.9 1309.3L1670.2 1308.9L1673.6 1307.4L1676.9 1307.1L1680.3 1306.3L1683.6 1305.8L1686.5 1305.8L1689.4 1304.9L1691.9 1305.7L1694.3 1308.0L1696.8 1309.0L1699.2 1310.7L1702.2 1310.5L1705.2 1311.7L1708.2 1311.2L1711.2 1311.2L1714.1 1312.2L1717.1 1311.6L1720.0 1310.3L1722.9 1310.3L1725.6 1308.8L1728.3 1308.0L1730.4 1305.7L1732.5 1302.7L1735.9 1299.1L1738.1 1299.0L1740.3 1297.3L1742.8 1302.7L1746.1 1307.1L1749.0 1308.4L1751.9 1309.8L1754.6 1310.2L1757.3 1311.6L1760.3 1311.6L1763.2 1313.2L1766.2 1313.8L1769.2 1314.0L1772.2 1315.9L1775.1 1316.1L1778.0 1315.2L1780.9 1312.9L1783.6 1311.2L1786.3 1310.7L1789.2 1311.2L1792.1 1312.5L1794.8 1313.8L1797.5 1313.8L1800.8 1314.6L1804.2 1314.7L1807.5 1315.6L1810.9 1315.2L1813.8 1313.3L1816.7 1312.1L1819.3 1310.0L1822.0 1309.4L1824.9 1307.8L1827.8 1307.1L1830.1 1307.1L1832.3 1305.8L1834.5 1304.9L1836.8 1304.9L1840.7 1308.5L1844.3 1311.6L1846.6 1312.9L1848.8 1314.7L1851.0 1315.7L1853.3 1317.0L1856.2 1315.7L1859.1 1314.7L1861.8 1313.4L1864.4 1312.5L1866.7 1311.8L1868.9 1309.4L1872.5 1307.1L1876.4 1311.6L1880.1 1315.2L1883.0 1315.4L1885.9 1317.0L1888.5 1316.6L1891.2 1318.3L1894.9 1319.2L1898.7 1319.1L1902.4 1318.3L1906.1 1319.3L1909.8 1318.2L1913.5 1318.3L1916.9 1318.1L1920.2 1316.1L1923.6 1315.8L1926.9 1313.8L1930.3 1314.4L1933.6 1316.1L1937.0 1317.7L1940.3 1318.3L1944.0 1319.0L1947.8 1318.6L1951.5 1318.3L1955.2 1318.3L1958.9 1317.9L1962.6 1318.3L1966.0 1318.2L1969.3 1318.2L1972.7 1318.1L1976.0 1319.2L1979.4 1319.5L1982.7 1319.0L1986.1 1320.2L1989.4 1319.6L1992.9 1318.3L1996.3 1319.6L1999.7 1318.3L2003.0 1318.2L2006.2 1318.3L2009.5 1317.0L2012.5 1318.1L2015.5 1318.4L2018.6 1318.1L2021.6 1318.3L2024.7 1317.7L2027.8 1319.5L2030.9 1318.7L2034.1 1319.6L2037.0 1319.2L2040.0 1320.0L2043.0 1319.6L2046.0 1319.7L2049.0 1319.5L2051.9 1319.6L2054.9 1320.4L2057.9 1319.6L2060.9 1319.2L2063.8 1318.7L2066.8 1318.4L2069.8 1318.8"/>
</g>
<g>
<text transform="translate(115.25 1423.60) scale(0.9782 1)" font-family='"Liberation Sans", sans-serif' font-size="39.60" font-weight="normal" fill="#000">5</text>
<text transform="translate(218.21 1423.60) scale(1.0354 1)" font-family='"Liberation Sans", sans-serif' font-size="39.60" font-weight="normal" fill="#000">10</text>
<text transform="translate(332.39 1423.60) scale(1.0406 1)" font-family='"Liberation Sans", sans-serif' font-size="39.60" font-weight="normal" fill="#000">15</text>
<text transform="translate(447.66 1423.60) scale(1.0101 1)" font-family='"Liberation Sans", sans-serif' font-size="39.60" font-weight="normal" fill="#000">20</text>
<text transform="translate(561.84 1423.60) scale(1.0151 1)" font-family='"Liberation Sans", sans-serif' font-size="39.60" font-weight="normal" fill="#000">25</text>
<text transform="translate(676.46 1423.60) scale(1.0003 1)" font-family='"Liberation Sans", sans-serif' font-size="39.60" font-weight="normal" fill="#000">30</text>
<text transform="translate(790.64 1423.60) scale(1.0052 1)" font-family='"Liberation Sans", sans-serif' font-size="39.60" font-weight="normal" fill="#000">35</text>
<text transform="translate(905.64 1423.60) scale(0.9814 1)" font-family='"Liberation Sans", sans-serif' font-size="39.60" font-weight="normal" fill="#000">40</text>
<text transform="translate(1019.82 1423.60) scale(0.9861 1)" font-family='"Liberation Sans", sans-serif' font-size="39.60" font-weight="normal" fill="#000">45</text>
<text transform="translate(1133.21 1423.60) scale(1.0003 1)" font-family='"Liberation Sans", sans-serif' font-size="39.60" font-weight="normal" fill="#000">50</text>
<text transform="translate(1247.39 1423.60) scale(1.0052 1)" font-family='"Liberation Sans", sans-serif' font-size="39.60" font-weight="normal" fill="#000">55</text>
<text transform="translate(1361.17 1423.60) scale(1.0101 1)" font-family='"Liberation Sans", sans-serif' font-size="39.60" font-weight="normal" fill="#000">60</text>
<text transform="translate(1475.35 1423.60) scale(1.0151 1)" font-family='"Liberation Sans", sans-serif' font-size="39.60" font-weight="normal" fill="#000">65</text>
<text transform="translate(1589.55 1423.60) scale(1.0101 1)" font-family='"Liberation Sans", sans-serif' font-size="39.60" font-weight="normal" fill="#000">70</text>
<text transform="translate(1703.73 1423.60) scale(1.0151 1)" font-family='"Liberation Sans", sans-serif' font-size="39.60" font-weight="normal" fill="#000">75</text>
<text transform="translate(1818.13 1423.60) scale(1.0052 1)" font-family='"Liberation Sans", sans-serif' font-size="39.60" font-weight="normal" fill="#000">80</text>
<text transform="translate(1932.31 1423.60) scale(1.0101 1)" font-family='"Liberation Sans", sans-serif' font-size="39.60" font-weight="normal" fill="#000">85</text>
<text transform="translate(2046.51 1423.60) scale(1.0052 1)" font-family='"Liberation Sans", sans-serif' font-size="39.60" font-weight="normal" fill="#000">90</text>
</g>
<text transform="translate(101.40 0) rotate(-90)" stroke-linejoin="round"><tspan x="-1086.27" y="0.00" font-family='"Liberation Sans", sans-serif' font-size="64.30" font-weight="bold" fill="#000" textLength="251.19" lengthAdjust="spacingAndGlyphs">Intensity</tspan> <tspan x="-819.17" y="0.00" font-family='"Liberation Sans", sans-serif' font-size="64.30" font-weight="bold" fill="#000" textLength="260.99" lengthAdjust="spacingAndGlyphs">[Counts],</tspan> <tspan x="-543.46" y="0.00" font-family='"Liberation Sans", sans-serif' font-size="64.30" font-weight="bold" fill="#000" textLength="250.93" lengthAdjust="spacingAndGlyphs">arbitrary</tspan></text>
<text stroke-linejoin="round"><tspan x="904.19" y="1515.00" font-family='"Liberation Sans", sans-serif' font-size="62.20" font-weight="bold" fill="#000" textLength="231.05" lengthAdjust="spacingAndGlyphs">Position</tspan> <tspan x="1152.82" y="1515.00" font-family='"Liberation Sans", sans-serif' font-size="62.20" font-weight="bold" fill="#000" textLength="136.81" lengthAdjust="spacingAndGlyphs">[°2θ]</tspan></text>
<text stroke-linejoin="round"><tspan x="1051.68" y="160.10" font-family='"Liberation Sans", sans-serif' font-size="62.50" font-weight="bold" fill="#000" textLength="76.27" lengthAdjust="spacingAndGlyphs">(a)</tspan></text>
<text stroke-linejoin="round"><tspan x="1536.34" y="243.44" font-family='"DejaVu Sans", "Liberation Sans", sans-serif' font-size="45.59" font-weight="bold" fill="#000" stroke="#000" stroke-width="0.8" textLength="22.44" lengthAdjust="spacingAndGlyphs">*</tspan> <tspan x="1575.05" y="249.10" font-family='"Liberation Sans", sans-serif' font-size="53.50" font-weight="bold" fill="#000" textLength="83.11" lengthAdjust="spacingAndGlyphs">SiO</tspan><tspan x="1658.19" y="263.00" font-family='"Liberation Sans", sans-serif' font-size="35.00" font-weight="bold" fill="#000" textLength="19.24" lengthAdjust="spacingAndGlyphs">2</tspan><tspan x="1674.86" y="249.10" font-family='"Liberation Sans", sans-serif' font-size="53.50" font-weight="bold" fill="#000" textLength="198.89" lengthAdjust="spacingAndGlyphs">, Quartz</tspan></text>
<text stroke-linejoin="round"><tspan x="1538.51" y="347.38" font-family='"Liberation Sans", sans-serif' font-size="46.45" font-weight="bold" fill="#000" textLength="20.38" lengthAdjust="spacingAndGlyphs">°</tspan> <tspan x="1573.10" y="352.40" font-family='"Liberation Sans", sans-serif' font-size="53.50" font-weight="bold" fill="#000" textLength="255.74" lengthAdjust="spacingAndGlyphs">Muscovite</tspan></text>
<text stroke-linejoin="round"><tspan x="1549.33" y="437.84" font-family='"Liberation Sans", sans-serif' font-size="60.51" font-weight="normal" fill="#000" stroke="#000" stroke-width="1.1" textLength="27.40" lengthAdjust="spacingAndGlyphs">«</tspan> <tspan x="1593.57" y="436.60" font-family='"Liberation Sans", sans-serif' font-size="53.50" font-weight="bold" fill="#000" textLength="93.69" lengthAdjust="spacingAndGlyphs">NiO</tspan></text>
<text stroke-linejoin="round"><tspan x="1667.51" y="758.20" font-family='"Liberation Sans", sans-serif' font-size="63.00" font-weight="bold" fill="#005f86" textLength="120.91" lengthAdjust="spacingAndGlyphs">Clay</tspan></text>
<text stroke-linejoin="round"><tspan x="1657.08" y="1034.70" font-family='"Liberation Sans", sans-serif' font-size="63.00" font-weight="bold" fill="#00691a" textLength="61.85" lengthAdjust="spacingAndGlyphs">Ni</tspan><tspan x="1718.00" y="1044.19" font-family='"Liberation Sans", sans-serif' font-size="81.22" font-weight="normal" fill="#00691a" stroke="#00691a" stroke-width="0.8" textLength="28.49" lengthAdjust="spacingAndGlyphs">/</tspan><tspan x="1748.33" y="1034.70" font-family='"Liberation Sans", sans-serif' font-size="63.00" font-weight="bold" fill="#00691a" textLength="119.79" lengthAdjust="spacingAndGlyphs">Clay</tspan></text>
<text stroke-linejoin="round"><tspan x="1650.84" y="1261.60" font-family='"Liberation Sans", sans-serif' font-size="62.80" font-weight="bold" fill="#ff7026" textLength="62.44" lengthAdjust="spacingAndGlyphs">Ni</tspan><tspan x="1713.00" y="1271.19" font-family='"Liberation Sans", sans-serif' font-size="81.22" font-weight="normal" fill="#ff7026" stroke="#ff7026" stroke-width="0.8" textLength="28.99" lengthAdjust="spacingAndGlyphs">/</tspan><tspan x="1743.85" y="1261.60" font-family='"Liberation Sans", sans-serif' font-size="62.80" font-weight="bold" fill="#ff7026" textLength="118.76" lengthAdjust="spacingAndGlyphs">Clay</tspan><tspan x="1863.31" y="1255.68" font-family='"Liberation Sans", sans-serif' font-size="145.00" font-weight="bold" fill="#ff7026" textLength="33.76" lengthAdjust="spacingAndGlyphs">_</tspan><tspan x="1897.67" y="1261.60" font-family='"Liberation Sans", sans-serif' font-size="62.80" font-weight="bold" fill="#ff7026" textLength="86.94" lengthAdjust="spacingAndGlyphs">Cal</tspan></text>
<g>
<text transform="translate(211.61 372.60) scale(1.0484 1)" font-family='"Liberation Sans", sans-serif' font-size="40.00" font-weight="bold" fill="#000">°</text>
<text transform="translate(478.81 602.80) scale(1.0484 1)" font-family='"Liberation Sans", sans-serif' font-size="40.00" font-weight="bold" fill="#000">°</text>
<text transform="translate(409.71 705.70) scale(1.0484 1)" font-family='"Liberation Sans", sans-serif' font-size="40.00" font-weight="bold" fill="#000">°</text>
<text transform="translate(449.71 725.80) scale(1.0484 1)" font-family='"Liberation Sans", sans-serif' font-size="40.00" font-weight="bold" fill="#000">°</text>
<text transform="translate(577.61 730.60) scale(1.0484 1)" font-family='"Liberation Sans", sans-serif' font-size="40.00" font-weight="bold" fill="#000">°</text>
<text transform="translate(639.71 676.60) scale(1.0484 1)" font-family='"Liberation Sans", sans-serif' font-size="40.00" font-weight="bold" fill="#000">°</text>
<text transform="translate(801.61 767.80) scale(1.0484 1)" font-family='"Liberation Sans", sans-serif' font-size="40.00" font-weight="bold" fill="#000">°</text>
<text transform="translate(832.61 720.00) scale(1.0484 1)" font-family='"Liberation Sans", sans-serif' font-size="40.00" font-weight="bold" fill="#000">°</text>
<text transform="translate(1040.81 739.70) scale(1.0484 1)" font-family='"Liberation Sans", sans-serif' font-size="40.00" font-weight="bold" fill="#000">°</text>
<text transform="translate(1147.61 707.80) scale(1.0484 1)" font-family='"Liberation Sans", sans-serif' font-size="40.00" font-weight="bold" fill="#000">°</text>
<text transform="translate(1369.61 747.90) scale(1.0484 1)" font-family='"Liberation Sans", sans-serif' font-size="40.00" font-weight="bold" fill="#000">°</text>
<text transform="translate(1556.91 770.90) scale(1.0484 1)" font-family='"Liberation Sans", sans-serif' font-size="40.00" font-weight="bold" fill="#000">°</text>
<text transform="translate(205.61 935.90) scale(1.0484 1)" font-family='"Liberation Sans", sans-serif' font-size="40.00" font-weight="bold" fill="#000">°</text>
<text transform="translate(483.41 895.40) scale(1.0484 1)" font-family='"Liberation Sans", sans-serif' font-size="40.00" font-weight="bold" fill="#000">°</text>
<text transform="translate(455.31 990.10) scale(1.0484 1)" font-family='"Liberation Sans", sans-serif' font-size="40.00" font-weight="bold" fill="#000">°</text>
<text transform="translate(577.41 994.60) scale(1.0484 1)" font-family='"Liberation Sans", sans-serif' font-size="40.00" font-weight="bold" fill="#000">°</text>
<text transform="translate(642.41 986.60) scale(1.0484 1)" font-family='"Liberation Sans", sans-serif' font-size="40.00" font-weight="bold" fill="#000">°</text>
<text transform="translate(801.61 998.10) scale(1.0484 1)" font-family='"Liberation Sans", sans-serif' font-size="40.00" font-weight="bold" fill="#000">°</text>
<text transform="translate(835.61 983.60) scale(1.0484 1)" font-family='"Liberation Sans", sans-serif' font-size="40.00" font-weight="bold" fill="#000">°</text>
<text transform="translate(1045.51 1000.60) scale(1.0484 1)" font-family='"Liberation Sans", sans-serif' font-size="40.00" font-weight="bold" fill="#000">°</text>
<text transform="translate(1150.51 995.00) scale(1.0484 1)" font-family='"Liberation Sans", sans-serif' font-size="40.00" font-weight="bold" fill="#000">°</text>
<text transform="translate(1380.61 1003.60) scale(1.0484 1)" font-family='"Liberation Sans", sans-serif' font-size="40.00" font-weight="bold" fill="#000">°</text>
<text transform="translate(1553.61 1017.80) scale(1.0484 1)" font-family='"Liberation Sans", sans-serif' font-size="40.00" font-weight="bold" fill="#000">°</text>
<text transform="translate(199.91 1153.70) scale(1.0484 1)" font-family='"Liberation Sans", sans-serif' font-size="40.00" font-weight="bold" fill="#000">°</text>
<text transform="translate(483.41 1159.90) scale(1.0484 1)" font-family='"Liberation Sans", sans-serif' font-size="40.00" font-weight="bold" fill="#000">°</text>
<text transform="translate(452.51 1236.40) scale(1.0484 1)" font-family='"Liberation Sans", sans-serif' font-size="40.00" font-weight="bold" fill="#000">°</text>
<text transform="translate(585.51 1261.90) scale(1.0484 1)" font-family='"Liberation Sans", sans-serif' font-size="40.00" font-weight="bold" fill="#000">°</text>
<text transform="translate(639.81 1223.00) scale(1.0484 1)" font-family='"Liberation Sans", sans-serif' font-size="40.00" font-weight="bold" fill="#000">°</text>
<text transform="translate(795.51 1241.80) scale(1.0484 1)" font-family='"Liberation Sans", sans-serif' font-size="40.00" font-weight="bold" fill="#000">°</text>
<text transform="translate(827.81 1224.60) scale(1.0484 1)" font-family='"Liberation Sans", sans-serif' font-size="40.00" font-weight="bold" fill="#000">°</text>
<text transform="translate(1051.81 1250.60) scale(1.0484 1)" font-family='"Liberation Sans", sans-serif' font-size="40.00" font-weight="bold" fill="#000">°</text>
<text transform="translate(1147.91 1219.50) scale(1.0484 1)" font-family='"Liberation Sans", sans-serif' font-size="40.00" font-weight="bold" fill="#000">°</text>
<text transform="translate(1372.61 1253.30) scale(1.0484 1)" font-family='"Liberation Sans", sans-serif' font-size="40.00" font-weight="bold" fill="#000">°</text>
<text transform="translate(1565.41 1251.10) scale(1.0484 1)" font-family='"Liberation Sans", sans-serif' font-size="40.00" font-weight="bold" fill="#000">°</text>
<text transform="translate(479.47 633.00) scale(0.9167 1)" font-family='"DejaVu Sans", "Liberation Sans", sans-serif' font-size="40.00" font-weight="bold" fill="#000" stroke="#000" stroke-width="0.8">*</text>
<text transform="translate(833.67 752.10) scale(0.9167 1)" font-family='"DejaVu Sans", "Liberation Sans", sans-serif' font-size="40.00" font-weight="bold" fill="#000" stroke="#000" stroke-width="0.8">*</text>
<text transform="translate(901.27 775.10) scale(0.9167 1)" font-family='"DejaVu Sans", "Liberation Sans", sans-serif' font-size="40.00" font-weight="bold" fill="#000" stroke="#000" stroke-width="0.8">*</text>
<text transform="translate(972.47 775.10) scale(0.9167 1)" font-family='"DejaVu Sans", "Liberation Sans", sans-serif' font-size="40.00" font-weight="bold" fill="#000" stroke="#000" stroke-width="0.8">*</text>
<text transform="translate(1040.67 768.70) scale(0.9167 1)" font-family='"DejaVu Sans", "Liberation Sans", sans-serif' font-size="40.00" font-weight="bold" fill="#000" stroke="#000" stroke-width="0.8">*</text>
<text transform="translate(1148.47 741.00) scale(0.9167 1)" font-family='"DejaVu Sans", "Liberation Sans", sans-serif' font-size="40.00" font-weight="bold" fill="#000" stroke="#000" stroke-width="0.8">*</text>
<text transform="translate(1372.37 778.50) scale(0.9167 1)" font-family='"DejaVu Sans", "Liberation Sans", sans-serif' font-size="40.00" font-weight="bold" fill="#000" stroke="#000" stroke-width="0.8">*</text>
<text transform="translate(1559.27 798.30) scale(0.9167 1)" font-family='"DejaVu Sans", "Liberation Sans", sans-serif' font-size="40.00" font-weight="bold" fill="#000" stroke="#000" stroke-width="0.8">*</text>
<text transform="translate(481.67 922.80) scale(0.9167 1)" font-family='"DejaVu Sans", "Liberation Sans", sans-serif' font-size="40.00" font-weight="bold" fill="#000" stroke="#000" stroke-width="0.8">*</text>
<text transform="translate(835.47 1011.80) scale(0.9167 1)" font-family='"DejaVu Sans", "Liberation Sans", sans-serif' font-size="40.00" font-weight="bold" fill="#000" stroke="#000" stroke-width="0.8">*</text>
<text transform="translate(903.47 1030.30) scale(0.9167 1)" font-family='"DejaVu Sans", "Liberation Sans", sans-serif' font-size="40.00" font-weight="bold" fill="#000" stroke="#000" stroke-width="0.8">*</text>
<text transform="translate(974.17 1025.50) scale(0.9167 1)" font-family='"DejaVu Sans", "Liberation Sans", sans-serif' font-size="40.00" font-weight="bold" fill="#000" stroke="#000" stroke-width="0.8">*</text>
<text transform="translate(1045.47 1034.10) scale(0.9167 1)" font-family='"DejaVu Sans", "Liberation Sans", sans-serif' font-size="40.00" font-weight="bold" fill="#000" stroke="#000" stroke-width="0.8">*</text>
<text transform="translate(1153.47 1022.30) scale(0.9167 1)" font-family='"DejaVu Sans", "Liberation Sans", sans-serif' font-size="40.00" font-weight="bold" fill="#000" stroke="#000" stroke-width="0.8">*</text>
<text transform="translate(1377.37 1031.00) scale(0.9167 1)" font-family='"DejaVu Sans", "Liberation Sans", sans-serif' font-size="40.00" font-weight="bold" fill="#000" stroke="#000" stroke-width="0.8">*</text>
<text transform="translate(1556.47 1044.90) scale(0.9167 1)" font-family='"DejaVu Sans", "Liberation Sans", sans-serif' font-size="40.00" font-weight="bold" fill="#000" stroke="#000" stroke-width="0.8">*</text>
<text transform="translate(482.87 1189.80) scale(0.9167 1)" font-family='"DejaVu Sans", "Liberation Sans", sans-serif' font-size="40.00" font-weight="bold" fill="#000" stroke="#000" stroke-width="0.8">*</text>
<text transform="translate(827.37 1255.10) scale(0.9167 1)" font-family='"DejaVu Sans", "Liberation Sans", sans-serif' font-size="40.00" font-weight="bold" fill="#000" stroke="#000" stroke-width="0.8">*</text>
<text transform="translate(903.47 1266.30) scale(0.9167 1)" font-family='"DejaVu Sans", "Liberation Sans", sans-serif' font-size="40.00" font-weight="bold" fill="#000" stroke="#000" stroke-width="0.8">*</text>
<text transform="translate(969.47 1263.20) scale(0.9167 1)" font-family='"DejaVu Sans", "Liberation Sans", sans-serif' font-size="40.00" font-weight="bold" fill="#000" stroke="#000" stroke-width="0.8">*</text>
<text transform="translate(1048.47 1283.60) scale(0.9167 1)" font-family='"DejaVu Sans", "Liberation Sans", sans-serif' font-size="40.00" font-weight="bold" fill="#000" stroke="#000" stroke-width="0.8">*</text>
<text transform="translate(1148.37 1249.30) scale(0.9167 1)" font-family='"DejaVu Sans", "Liberation Sans", sans-serif' font-size="40.00" font-weight="bold" fill="#000" stroke="#000" stroke-width="0.8">*</text>
<text transform="translate(1372.47 1280.30) scale(0.9167 1)" font-family='"DejaVu Sans", "Liberation Sans", sans-serif' font-size="40.00" font-weight="bold" fill="#000" stroke="#000" stroke-width="0.8">*</text>
<text transform="translate(1562.97 1279.70) scale(0.9167 1)" font-family='"DejaVu Sans", "Liberation Sans", sans-serif' font-size="40.00" font-weight="bold" fill="#000" stroke="#000" stroke-width="0.8">*</text>
<text transform="translate(853.55 1219.78) scale(0.7450 1)" font-family='"Liberation Sans", sans-serif' font-size="55.38" font-weight="normal" fill="#000" stroke="#000" stroke-width="1.0">«</text>
<text transform="translate(1438.55 1253.98) scale(0.7450 1)" font-family='"Liberation Sans", sans-serif' font-size="55.38" font-weight="normal" fill="#000" stroke="#000" stroke-width="1.0">«</text>
</g>
</g>
<defs><filter id="soft" filterUnits="userSpaceOnUse" x="0" y="1600" width="2118" height="1574" color-interpolation-filters="sRGB"><feGaussianBlur stdDeviation="1"/></filter></defs>
<g id="chart-b" filter="url(#soft)">
<rect x="97.8" y="1650.6" width="1969.8" height="1319.2" fill="none" stroke="#000" stroke-width="4.6"/>
<path d="M97.8 2969.8V2983.5M213.7 2969.8V2983.5M329.5 2969.8V2983.5M445.4 2969.8V2983.5M561.3 2969.8V2983.5M677.2 2969.8V2983.5M793.0 2969.8V2983.5M908.9 2969.8V2983.5M1024.8 2969.8V2983.5M1140.6 2969.8V2983.5M1256.5 2969.8V2983.5M1372.4 2969.8V2983.5M1488.2 2969.8V2983.5M1604.1 2969.8V2983.5M1720.0 2969.8V2983.5M1835.9 2969.8V2983.5M1951.7 2969.8V2983.5M2067.6 2969.8V2983.5" stroke="#000" stroke-width="4.0" fill="none"/>
<clipPath id="clipb"><rect x="80" y="1648.4" width="2010" height="1340"/></clipPath>
<g fill="none" stroke-linejoin="round" stroke-linecap="round" stroke-width="7.0" clip-path="url(#clipb)">
<path stroke="#04668f" stroke-width="7.5" d="M134.2 1637.9L134.3 1640.6L134.9 1643.1L134.8 1645.8L134.9 1648.3L135.5 1651.1L135.4 1653.3L135.8 1656.3L136.6 1658.3L137.1 1661.5L137.2 1663.9L137.2 1666.0L137.7 1668.6L137.7 1671.4L137.8 1674.1L138.3 1676.9L138.5 1679.4L138.7 1682.0L138.9 1684.3L139.5 1687.4L139.5 1689.8L139.4 1692.1L139.6 1694.6L140.1 1697.4L140.4 1700.0L140.7 1702.9L140.2 1705.0L141.0 1707.8L141.3 1710.3L140.9 1713.1L141.6 1715.4L141.4 1718.1L142.3 1720.9L141.9 1723.2L142.1 1725.6L142.7 1728.3L142.7 1731.1L142.6 1733.9L142.7 1736.4L142.7 1738.9L142.9 1741.4L143.4 1744.3L143.1 1747.0L143.0 1749.3L143.5 1752.0L143.1 1754.9L143.2 1757.0L143.6 1759.6L143.3 1762.0L143.2 1765.0L143.4 1767.6L143.5 1770.1L143.9 1772.7L143.7 1775.6L143.5 1777.7L144.1 1780.7L143.7 1782.9L144.1 1786.0L143.8 1788.6L144.4 1791.0L144.1 1793.2L144.0 1796.4L144.2 1798.8L144.3 1801.5L144.6 1803.8L144.4 1806.7L144.4 1808.9L144.8 1811.9L144.9 1814.2L145.2 1816.7L144.7 1819.3L145.0 1821.8L144.9 1824.6L145.2 1827.0L145.2 1830.2L145.6 1832.6L145.5 1835.2L145.2 1837.4L145.2 1840.6L145.7 1843.2L145.3 1845.6L145.6 1848.2L145.6 1851.0L145.5 1853.3L145.9 1856.2L146.0 1858.6L146.1 1861.4L145.8 1863.8L146.2 1866.5L145.9 1869.1L146.3 1871.5L146.2 1874.0L146.2 1876.8L145.9 1879.4L146.5 1882.1L146.4 1884.4L146.4 1887.1L146.2 1889.9L146.0 1892.5L146.0 1895.0L146.3 1897.3L146.5 1900.1L146.4 1903.0L146.2 1905.0L146.3 1908.0L146.2 1910.3L146.7 1913.2L146.4 1916.0L146.3 1918.4L146.3 1920.8L146.7 1923.8L146.8 1926.0L146.6 1928.6L146.3 1931.3L146.8 1934.1L146.7 1936.8L146.4 1938.9L146.6 1941.5L146.4 1944.2L146.7 1946.9L146.5 1949.7L147.0 1952.1L146.4 1954.4L146.9 1957.0L146.8 1959.9L146.6 1962.7L146.4 1964.8L146.7 1967.4L147.0 1970.1L146.5 1972.6L146.9 1975.5L146.9 1978.2L147.0 1981.0L146.9 1983.1L146.8 1985.7L146.5 1988.5L147.3 1990.3L146.4 1993.3L147.3 1996.3L147.1 1999.5L146.7 2002.2L147.7 2003.1L147.8 2007.2L146.2 2009.2L147.2 2012.9L146.7 2014.7L147.7 2017.8L147.9 2019.6L147.3 2021.5L147.5 2025.7L147.3 2028.0L146.5 2031.1L148.1 2033.9L147.2 2036.0L146.8 2038.9L147.9 2040.1L146.4 2042.9L147.3 2046.4L147.2 2047.1L147.9 2049.8L147.9 2052.7L147.1 2056.8L146.7 2057.8L147.5 2061.8L148.2 2064.4L148.4 2066.5L148.5 2068.0L147.1 2071.7L147.3 2074.9L148.1 2076.9L148.6 2079.6L147.7 2081.8L148.9 2085.7L147.9 2088.1L149.7 2089.9L149.3 2091.7L149.8 2095.0L150.6 2096.3L152.4 2099.9L152.4 2102.9L154.0 2104.4L155.6 2105.6L156.6 2108.7L158.7 2112.2L158.7 2113.3L159.8 2115.4L162.6 2118.7L163.4 2119.5L164.3 2122.4L167.2 2123.3L168.3 2125.2L168.6 2127.9L171.1 2130.2L172.1 2133.0L173.2 2135.3L174.9 2136.8L176.8 2138.0L178.9 2140.6L180.2 2142.6L182.1 2144.1L183.1 2147.3L185.7 2149.0L188.0 2151.0L190.0 2151.7L191.8 2154.7L194.2 2155.0L195.2 2158.0L197.2 2159.6L200.6 2159.0L201.3 2162.1L203.3 2162.3L206.2 2165.0L207.9 2166.1L209.0 2169.4L210.0 2170.0L213.2 2173.7L215.6 2173.5L216.6 2176.9L218.5 2178.5L219.8 2178.7L221.5 2180.3L224.4 2183.3L226.4 2184.0L227.6 2185.9L230.9 2189.5L233.1 2188.9L233.4 2192.7L236.2 2193.9L238.0 2194.7L240.4 2196.2L242.7 2196.6L245.2 2200.0L246.4 2200.3L249.9 2201.2L251.2 2201.7L254.3 2202.2L257.5 2205.0L259.6 2205.9L262.0 2205.4L264.4 2206.3L267.7 2207.7L268.9 2208.5L272.4 2208.4L275.1 2207.0L277.8 2207.4L279.7 2205.9L282.0 2203.6L284.0 2201.2L285.2 2200.5L286.3 2198.4L289.3 2197.0L290.0 2195.7L292.3 2192.1L293.5 2190.3L294.6 2187.8L296.0 2185.7L296.6 2183.3L297.7 2180.3L298.2 2178.4L298.8 2175.6L299.4 2173.0L300.5 2170.5L301.2 2168.6L302.1 2165.8L303.0 2163.3L303.6 2160.8L303.9 2157.9L304.2 2155.8L304.3 2153.4L304.7 2150.5L305.1 2147.9L305.8 2145.0L306.4 2142.7L306.5 2140.3L306.7 2137.5L307.2 2135.1L307.3 2132.6L307.6 2129.5L307.9 2127.0L308.1 2124.9L308.5 2122.4L309.0 2119.2L309.4 2117.2L309.0 2114.6L309.5 2111.7L310.1 2109.0L310.0 2106.9L310.4 2104.0L310.8 2101.6L310.7 2098.5L311.0 2096.2L310.9 2093.3L311.4 2090.8L311.6 2088.6L311.8 2085.7L312.1 2083.2L312.5 2080.7L312.9 2078.4L313.0 2075.3L312.9 2073.2L313.6 2070.4L313.7 2067.6L314.2 2065.2L314.5 2062.7L315.1 2059.8L315.3 2057.9L316.4 2055.3L316.5 2052.0L318.5 2052.7L319.6 2054.9L320.1 2057.4L320.2 2060.4L320.9 2063.0L321.1 2065.4L321.3 2067.9L321.9 2070.9L321.7 2072.9L322.4 2075.9L322.7 2078.2L322.7 2080.8L323.2 2083.5L323.3 2086.5L323.3 2088.8L323.8 2091.6L323.8 2093.8L323.9 2096.8L324.1 2098.8L324.7 2101.7L325.0 2104.1L325.4 2106.6L325.3 2109.6L325.5 2111.9L326.2 2114.7L326.2 2116.9L326.5 2119.9L326.8 2122.1L327.3 2125.0L327.7 2127.8L327.9 2130.1L328.1 2132.6L327.9 2135.2L328.6 2138.2L328.3 2140.4L328.6 2143.0L328.9 2145.6L329.0 2148.3L329.6 2150.9L329.9 2153.5L329.7 2156.2L330.4 2158.5L330.1 2161.2L330.7 2163.8L331.3 2166.5L331.5 2168.7L331.6 2171.7L331.6 2173.8L332.3 2177.0L332.2 2179.4L332.5 2182.0L333.2 2184.3L333.2 2187.2L333.8 2189.8L334.0 2192.1L334.8 2194.9L334.8 2197.4L335.4 2200.0L335.9 2202.4L336.3 2205.2L336.8 2207.8L337.3 2210.4L337.9 2212.8L338.1 2215.4L338.9 2217.7L339.3 2220.0L340.2 2223.2L340.7 2225.0L341.4 2227.7L342.2 2230.6L342.9 2232.5L343.7 2235.3L345.1 2237.3L345.6 2240.0L347.2 2242.7L348.0 2244.1L349.7 2246.3L351.3 2249.0L353.2 2250.5L354.4 2252.6L356.0 2255.2L358.0 2256.8L360.5 2258.4L361.9 2260.7L364.6 2261.4L366.3 2264.0L368.4 2264.2L370.1 2267.0L373.1 2267.2L375.1 2268.8L377.2 2271.1L379.9 2270.5L381.6 2272.1L384.4 2273.9L387.1 2274.4L389.0 2274.2L391.6 2275.3L394.5 2276.8L396.8 2278.9L399.0 2278.5L401.4 2279.9L403.7 2280.9L406.9 2281.6L408.8 2280.9L411.7 2281.2L414.1 2282.8L416.9 2283.7L419.4 2283.3L421.9 2284.0L424.5 2283.1L427.0 2283.7L429.6 2285.0L431.8 2286.4L434.3 2286.1L436.5 2287.1L439.2 2289.1L441.5 2290.0L443.7 2290.3L446.4 2292.6L449.2 2292.8L451.0 2293.0L454.0 2293.5L456.3 2294.9L458.4 2297.0L461.5 2295.9L463.8 2296.9L466.1 2298.3L468.5 2298.6L471.0 2300.3L473.3 2300.0L476.2 2301.2L478.8 2302.7L481.0 2303.0L483.6 2303.3L485.5 2304.1L488.4 2306.5L490.5 2306.5L493.5 2307.7L495.5 2307.3L498.1 2307.5L500.8 2307.8L503.6 2309.2L506.0 2310.3L508.7 2311.2L511.1 2310.1L513.7 2309.6L516.2 2312.1L519.1 2312.8L521.5 2312.8L523.6 2312.6L526.3 2314.1L528.7 2314.0L531.5 2315.7L534.2 2315.7L536.4 2316.7L539.3 2316.6L541.6 2316.9L544.1 2317.9L547.0 2317.7L549.5 2319.0L551.9 2319.6L554.6 2317.7L557.0 2318.1L559.8 2319.8L562.3 2320.8L564.9 2319.4L567.3 2320.6L569.7 2319.5L572.3 2317.4L574.6 2315.4L577.1 2317.3L578.6 2318.9L579.8 2321.1L582.5 2322.8L585.0 2321.5L587.8 2319.9L590.3 2319.2L592.6 2319.1L595.7 2320.6L598.0 2318.2L600.4 2318.1L602.4 2316.6L605.1 2314.2L606.6 2313.6L608.4 2311.7L610.7 2309.6L612.3 2307.7L614.0 2305.8L615.5 2303.3L616.7 2301.2L618.0 2299.3L618.6 2296.7L619.6 2294.5L620.4 2291.9L621.1 2289.5L622.0 2287.0L622.6 2284.4L623.2 2282.0L623.9 2279.3L624.4 2276.9L625.0 2274.1L625.6 2271.8L626.1 2269.2L626.6 2266.6L627.0 2263.9L627.2 2261.5L627.7 2258.9L628.0 2256.4L628.5 2253.7L628.8 2251.2L629.1 2248.5L629.6 2246.1L629.8 2243.5L630.1 2240.9L630.3 2238.3L630.7 2235.8L630.8 2233.2L631.1 2230.5L631.6 2227.8L631.7 2225.3L632.0 2222.7L632.4 2220.3L632.6 2217.6L632.9 2214.9L633.1 2212.5L633.5 2209.9L634.0 2207.4L634.3 2204.6L634.7 2202.3L635.3 2199.5L636.0 2197.0L636.9 2194.5L638.5 2196.3L639.0 2198.7L639.5 2201.3L640.0 2203.7L640.6 2206.3L641.0 2209.0L641.3 2211.4L641.6 2214.2L641.9 2216.5L642.1 2219.2L642.5 2221.7L642.7 2224.3L643.1 2227.0L643.3 2229.6L643.8 2232.2L643.9 2234.7L644.4 2237.3L644.6 2239.9L644.8 2242.6L645.2 2245.0L645.6 2247.5L645.9 2250.1L646.1 2252.9L646.3 2255.3L646.8 2257.9L647.0 2260.6L647.3 2263.2L647.8 2265.6L648.0 2268.3L648.4 2271.0L648.9 2273.3L649.3 2276.0L649.7 2278.6L650.3 2281.1L650.7 2283.7L651.3 2286.2L651.8 2288.7L652.3 2291.2L652.8 2293.8L653.3 2296.5L654.0 2299.0L654.6 2301.4L655.4 2303.9L656.5 2306.1L657.5 2308.7L658.7 2311.1L659.8 2313.1L661.1 2315.5L662.6 2317.7L664.1 2319.9L666.2 2321.5L668.6 2322.6L670.8 2323.9L672.7 2325.3L675.1 2326.4L677.8 2327.3L680.2 2328.1L682.6 2329.0L685.2 2329.0L687.8 2330.0L690.4 2330.5L693.0 2330.2L695.6 2330.0L698.2 2329.7L700.8 2330.4L703.4 2329.5L706.0 2330.0L708.6 2329.3L711.2 2329.4L713.7 2329.9L716.3 2330.1L718.8 2331.5L721.5 2331.5L724.0 2331.2L726.6 2331.2L729.2 2332.1L731.8 2331.3L734.4 2331.6L737.0 2331.3L739.6 2331.0L742.2 2332.0L744.9 2332.3L747.4 2332.5L749.9 2333.3L752.5 2333.5L755.1 2333.2L757.7 2333.5L760.3 2333.1L762.9 2333.4L765.5 2333.4L768.1 2333.7L770.7 2333.1L773.3 2332.9L775.9 2333.2L778.5 2332.6L781.0 2332.6L783.6 2333.0L786.3 2331.9L788.6 2331.0L790.9 2329.6L792.7 2328.1L794.8 2325.9L797.0 2326.1L799.0 2328.0L801.4 2329.2L803.9 2329.0L806.5 2329.1L809.0 2328.6L811.7 2328.1L814.2 2328.2L816.8 2327.3L819.3 2326.7L821.7 2326.0L823.8 2324.5L826.1 2323.6L828.3 2321.9L830.7 2320.3L832.5 2318.9L834.5 2317.0L836.4 2315.7L838.5 2314.0L840.4 2311.8L841.9 2310.1L843.2 2307.8L844.8 2305.8L846.4 2303.3L847.7 2301.1L849.0 2299.0L850.2 2296.8L851.6 2294.6L852.7 2292.1L853.8 2289.8L854.7 2287.5L855.6 2284.9L856.6 2282.6L857.5 2280.2L858.5 2277.7L859.3 2275.1L859.9 2272.7L860.5 2270.2L861.1 2267.7L861.8 2265.1L862.3 2262.5L862.7 2260.0L863.4 2257.5L863.7 2255.0L864.1 2252.4L864.7 2249.9L865.0 2247.3L865.6 2244.7L865.8 2242.1L866.1 2239.5L866.4 2237.0L867.0 2234.3L867.3 2231.7L867.5 2229.2L867.9 2226.6L868.5 2224.0L869.0 2221.5L870.0 2219.0L871.0 2216.9L872.7 2217.7L873.5 2220.3L874.2 2222.8L874.8 2225.4L875.3 2227.8L875.6 2230.6L876.0 2233.1L876.5 2235.7L876.9 2238.3L877.1 2240.8L877.5 2243.3L877.8 2245.8L878.3 2248.5L878.5 2251.0L878.9 2253.5L879.4 2256.1L879.6 2258.6L880.0 2261.4L880.4 2263.9L881.0 2266.5L881.2 2269.1L881.8 2271.5L882.1 2274.2L882.7 2276.7L883.1 2279.2L883.6 2281.8L884.0 2284.5L884.6 2287.0L885.1 2289.5L885.7 2292.1L886.3 2294.7L886.7 2297.1L887.5 2299.5L888.1 2302.0L889.0 2304.7L889.9 2306.9L890.9 2309.4L891.9 2311.8L893.2 2314.3L894.2 2316.5L895.5 2318.5L896.9 2321.0L898.7 2322.8L900.1 2324.7L902.0 2326.9L903.8 2328.6L905.9 2330.6L907.7 2332.0L909.9 2333.8L912.2 2334.9L914.4 2336.2L916.8 2336.9L919.1 2337.7L921.8 2338.6L924.2 2339.2L926.7 2339.6L929.3 2340.1L931.9 2340.5L934.4 2340.9L937.0 2340.8L939.6 2340.6L942.3 2340.9L944.8 2340.8L947.5 2341.7L950.0 2341.4L952.6 2340.6L955.3 2340.3L957.8 2340.3L960.4 2340.1L963.0 2340.1L965.6 2339.8L968.1 2339.2L970.7 2338.0L973.1 2337.4L975.7 2336.9L978.3 2337.1L980.6 2335.8L982.4 2333.9L984.8 2332.1L986.9 2332.0L988.7 2333.9L990.2 2335.9L992.2 2337.8L994.6 2337.9L997.1 2338.5L999.7 2338.4L1002.3 2338.4L1004.9 2338.8L1007.5 2339.0L1010.1 2339.3L1012.6 2338.6L1015.1 2337.6L1017.8 2337.0L1020.1 2336.4L1022.7 2335.4L1025.1 2334.6L1027.2 2332.9L1028.9 2331.2L1031.0 2329.6L1032.7 2327.9L1034.8 2326.1L1036.9 2324.9L1039.1 2323.6L1041.6 2323.0L1043.8 2324.2L1046.2 2325.6L1048.4 2326.4L1050.7 2327.7L1052.6 2329.7L1054.8 2331.2L1056.5 2332.8L1058.9 2334.3L1060.9 2335.8L1063.2 2337.0L1065.5 2338.7L1068.0 2339.4L1070.4 2340.2L1072.9 2340.9L1075.5 2340.4L1078.1 2340.1L1080.7 2339.6L1083.2 2339.1L1085.3 2337.3L1087.4 2336.0L1089.4 2334.4L1091.5 2332.5L1093.2 2331.2L1095.0 2328.8L1096.4 2326.9L1097.6 2324.6L1098.7 2322.4L1100.0 2319.8L1101.2 2317.6L1102.3 2315.2L1103.2 2312.7L1104.1 2310.1L1104.8 2307.8L1105.4 2305.4L1106.1 2302.8L1106.8 2300.1L1107.3 2297.7L1107.8 2295.2L1108.6 2292.6L1109.1 2290.2L1109.9 2287.7L1110.4 2285.2L1111.0 2282.4L1111.5 2279.9L1112.0 2277.4L1112.9 2275.1L1113.3 2272.3L1114.0 2270.0L1114.7 2267.5L1115.2 2265.0L1115.8 2262.4L1116.6 2259.9L1117.1 2257.3L1118.1 2254.7L1119.1 2252.4L1120.7 2250.3L1122.9 2249.5L1124.5 2250.9L1125.9 2253.3L1126.8 2255.6L1128.0 2258.2L1128.5 2260.5L1129.3 2263.2L1129.8 2265.7L1130.1 2268.2L1130.5 2270.9L1131.0 2273.5L1131.4 2275.9L1131.9 2278.6L1132.2 2281.1L1132.6 2283.7L1133.0 2286.3L1133.4 2288.9L1133.8 2291.4L1134.3 2293.9L1134.6 2296.5L1134.9 2299.0L1135.3 2301.6L1135.7 2304.4L1136.0 2306.9L1136.5 2309.3L1136.8 2311.9L1137.3 2314.5L1137.6 2317.1L1138.1 2319.8L1138.5 2322.2L1138.8 2324.9L1139.3 2327.3L1140.0 2329.9L1140.7 2332.4L1141.3 2335.1L1141.7 2337.5L1142.5 2339.9L1143.3 2342.4L1144.2 2344.9L1145.4 2347.4L1146.7 2349.4L1148.2 2351.7L1149.7 2353.9L1151.4 2355.4L1153.7 2356.9L1156.1 2358.3L1158.5 2358.5L1161.0 2359.2L1163.8 2358.9L1166.0 2358.5L1168.4 2357.3L1170.5 2356.1L1172.9 2354.7L1174.8 2353.0L1176.9 2351.8L1179.5 2351.1L1181.2 2352.2L1182.9 2354.4L1184.4 2356.5L1186.1 2358.4L1187.9 2360.2L1190.1 2361.2L1192.6 2362.5L1195.1 2363.6L1197.3 2364.5L1199.6 2366.0L1201.9 2367.3L1204.3 2368.4L1206.5 2369.8L1208.8 2371.4L1210.9 2372.5L1213.6 2373.5L1216.0 2372.8L1218.6 2374.0L1221.3 2374.0L1223.8 2373.8L1226.4 2373.2L1228.9 2373.5L1231.5 2372.6L1233.8 2371.4L1236.2 2370.3L1238.6 2369.9L1241.0 2368.4L1243.4 2367.3L1245.6 2365.6L1247.4 2364.1L1249.3 2362.0L1251.3 2360.2L1253.0 2358.4L1254.9 2356.6L1256.7 2354.7L1258.4 2353.2L1260.5 2351.5L1263.0 2350.2L1265.3 2350.4L1267.4 2352.3L1269.2 2354.1L1271.0 2356.2L1272.5 2358.1L1274.6 2359.8L1276.3 2362.2L1278.0 2363.8L1280.1 2365.2L1282.4 2366.7L1284.7 2367.8L1287.1 2369.0L1289.5 2369.2L1292.0 2370.0L1294.7 2370.7L1297.3 2371.0L1299.8 2371.5L1302.4 2372.0L1305.1 2370.9L1307.5 2370.7L1309.9 2369.3L1311.5 2367.6L1313.2 2365.6L1315.6 2366.0L1317.1 2367.6L1318.7 2370.1L1320.7 2370.9L1323.2 2371.9L1325.8 2372.8L1328.4 2372.0L1331.0 2372.6L1333.5 2372.6L1336.1 2372.6L1338.7 2372.3L1341.4 2371.8L1343.8 2372.4L1346.5 2371.6L1349.0 2370.7L1351.5 2371.2L1354.1 2370.6L1356.6 2369.5L1359.2 2369.2L1361.6 2368.5L1364.1 2366.9L1366.5 2366.2L1369.0 2365.6L1371.2 2364.3L1373.6 2363.3L1375.8 2362.1L1378.2 2360.9L1380.6 2359.7L1383.2 2359.2L1385.9 2359.5L1388.4 2360.1L1391.0 2360.6L1393.5 2361.3L1396.1 2361.9L1398.4 2362.7L1400.8 2363.9L1403.4 2364.2L1405.8 2365.4L1408.4 2365.7L1411.0 2366.0L1413.6 2366.8L1416.2 2366.5L1418.8 2366.5L1421.4 2366.5L1423.9 2367.5L1426.5 2367.3L1429.2 2367.0L1431.7 2366.4L1434.4 2366.9L1437.0 2365.7L1439.5 2365.1L1441.6 2364.3L1444.0 2362.7L1446.1 2361.5L1448.1 2359.9L1449.8 2357.6L1451.5 2355.8L1452.8 2353.8L1454.4 2351.3L1455.6 2349.0L1456.9 2346.8L1458.0 2344.5L1459.1 2342.2L1460.2 2339.8L1461.4 2337.6L1462.8 2335.1L1464.0 2333.1L1465.3 2330.8L1466.9 2328.7L1468.8 2327.4L1471.4 2326.7L1473.6 2328.1L1475.9 2329.3L1478.0 2330.6L1480.4 2330.2L1481.8 2327.8L1482.6 2325.3L1483.4 2323.1L1484.4 2320.8L1486.4 2318.4L1488.7 2317.1L1490.4 2319.1L1491.8 2321.5L1492.7 2323.9L1493.5 2326.3L1494.2 2328.9L1495.4 2331.4L1496.3 2333.8L1497.2 2336.0L1498.6 2338.2L1500.6 2339.8L1502.8 2340.9L1505.4 2340.9L1507.8 2339.7L1510.0 2338.7L1512.1 2336.9L1513.5 2334.8L1515.1 2332.9L1516.7 2330.9L1518.1 2328.6L1519.4 2326.4L1520.5 2324.0L1522.1 2321.9L1523.5 2319.7L1525.0 2317.2L1526.2 2315.4L1527.4 2312.8L1529.0 2310.9L1530.1 2308.3L1531.8 2306.5L1533.3 2304.4L1535.5 2303.1L1537.9 2301.8L1540.4 2303.6L1542.4 2304.9L1543.8 2306.9L1545.0 2309.3L1546.4 2311.5L1547.7 2313.8L1548.8 2316.2L1549.7 2318.7L1550.8 2320.8L1551.9 2323.3L1553.2 2325.5L1554.2 2328.0L1555.4 2330.3L1556.6 2332.7L1557.7 2334.8L1558.9 2337.2L1560.2 2339.6L1561.4 2341.9L1562.3 2344.3L1563.5 2346.4L1564.7 2349.0L1565.9 2351.1L1567.3 2353.7L1568.4 2355.6L1570.0 2358.0L1571.3 2360.2L1572.8 2362.1L1574.5 2364.3L1576.2 2366.3L1578.1 2367.7L1580.4 2368.8L1582.9 2370.1L1585.0 2371.9L1587.6 2373.0L1589.8 2373.9L1592.2 2374.6L1594.9 2374.8L1597.2 2376.0L1599.9 2376.6L1602.5 2376.7L1605.0 2376.8L1607.5 2378.1L1610.1 2377.4L1612.8 2377.3L1615.3 2377.4L1617.9 2377.5L1620.4 2376.9L1623.0 2376.0L1625.5 2374.7L1627.6 2373.7L1629.8 2372.7L1632.0 2370.8L1633.5 2368.9L1635.4 2366.9L1637.1 2365.3L1638.5 2363.0L1640.1 2360.8L1641.3 2358.8L1643.0 2356.2L1644.3 2354.2L1645.6 2352.0L1647.4 2350.3L1649.2 2348.1L1651.3 2347.1L1653.9 2346.1L1656.1 2346.7L1657.8 2348.7L1659.2 2350.8L1660.6 2353.2L1661.6 2355.7L1662.5 2358.0L1663.8 2360.5L1664.7 2362.8L1665.8 2365.1L1667.1 2367.4L1668.4 2369.9L1669.7 2371.8L1671.0 2374.3L1672.5 2376.1L1674.5 2377.9L1676.6 2379.3L1679.0 2380.6L1681.2 2381.7L1683.8 2381.9L1686.4 2382.8L1688.8 2383.3L1691.1 2384.4L1693.7 2385.1L1696.3 2385.6L1698.7 2386.2L1701.3 2386.8L1704.0 2386.9L1706.5 2387.0L1709.1 2387.4L1711.7 2388.3L1714.2 2388.5L1716.9 2388.0L1719.5 2388.8L1722.1 2388.2L1724.6 2388.8L1727.2 2388.2L1729.8 2388.1L1732.5 2388.9L1735.1 2389.1L1737.6 2388.9L1740.2 2388.9L1742.9 2388.0L1745.5 2388.1L1748.0 2388.9L1750.6 2388.3L1753.2 2388.5L1755.8 2388.5L1758.5 2388.1L1761.0 2388.0L1763.6 2388.3L1766.2 2387.4L1768.8 2387.8L1771.4 2388.2L1774.0 2387.0L1776.6 2386.9L1779.2 2387.7L1781.8 2387.8L1784.4 2387.9L1787.0 2387.3L1789.6 2387.0L1792.2 2386.7L1794.8 2386.7L1797.4 2387.2L1800.0 2386.6L1802.6 2386.1L1805.1 2386.3L1807.8 2386.4L1810.3 2386.0L1813.0 2384.9L1815.5 2385.1L1818.1 2385.1L1820.7 2384.5L1823.3 2385.1L1825.6 2386.3L1828.2 2386.9L1830.7 2387.5L1833.1 2388.5L1835.6 2388.8L1838.2 2388.8L1840.8 2389.7L1843.4 2390.0L1846.0 2389.8L1848.6 2389.9L1851.2 2389.4L1853.8 2390.0L1856.4 2389.5L1859.0 2389.6L1861.6 2388.3L1864.0 2388.4L1866.5 2386.8L1869.0 2385.8L1871.3 2385.4L1873.9 2384.9L1876.5 2384.1L1879.1 2384.2L1881.7 2383.8L1884.2 2383.3L1886.8 2384.5L1889.5 2383.7L1892.0 2384.2L1894.6 2384.6L1897.2 2384.8L1899.8 2385.2L1902.4 2385.0L1905.0 2384.8L1907.6 2384.8L1910.2 2383.9L1912.8 2383.7L1915.3 2384.3L1917.9 2384.5L1920.6 2385.9L1923.0 2386.1L1925.5 2387.1L1928.1 2386.8L1930.7 2387.8L1933.3 2387.5L1935.9 2388.2L1938.5 2388.1L1941.1 2387.5L1943.7 2387.2L1946.2 2386.8L1948.8 2386.3L1951.1 2385.7L1953.6 2384.4L1956.1 2383.2L1958.0 2382.1L1960.3 2380.4L1962.1 2378.7L1964.2 2376.8L1966.3 2375.6L1968.5 2374.2L1970.9 2374.3L1972.8 2376.0L1974.8 2377.9L1976.6 2379.5L1978.3 2381.2L1980.5 2382.9L1982.2 2384.8L1984.2 2386.8L1986.6 2387.8L1989.0 2388.5L1991.7 2389.0L1994.3 2388.5L1996.9 2388.5L1999.5 2388.0L2002.0 2387.9L2004.6 2387.3L2007.2 2386.6L2009.8 2386.8L2012.4 2388.0L2014.6 2388.8L2017.0 2389.8L2019.3 2390.9L2022.0 2391.9L2024.3 2392.8L2026.8 2392.8L2029.4 2393.7L2032.0 2394.7L2034.5 2394.9L2037.1 2394.8L2039.7 2394.4L2042.3 2395.0L2044.9 2394.7L2047.5 2394.8L2050.1 2394.4L2052.7 2395.2L2055.3 2394.7L2057.9 2395.5L2060.5 2394.6L2063.1 2394.4L2065.7 2395.3L2068.3 2395.0"/>
<path stroke="#00721c" stroke-width="7.7" d="M131.3 2547.6L133.5 2549.3L135.9 2549.7L137.2 2551.9L139.0 2554.5L140.8 2556.5L142.1 2558.7L143.2 2560.6L144.7 2563.3L146.2 2565.2L148.1 2566.9L150.4 2568.1L152.9 2569.0L154.2 2572.2L156.8 2572.3L159.4 2575.3L160.6 2575.8L162.8 2577.0L165.6 2578.0L167.9 2579.0L169.7 2581.8L172.3 2582.1L174.9 2583.2L177.0 2583.3L179.7 2586.5L182.2 2587.1L183.9 2587.8L186.5 2589.6L188.3 2589.8L190.9 2591.5L193.7 2592.4L195.5 2594.1L198.3 2594.1L200.7 2594.5L203.4 2596.0L205.8 2595.8L208.4 2596.8L210.8 2596.2L213.5 2597.9L215.8 2598.0L218.5 2597.9L221.2 2600.2L223.9 2600.4L226.4 2600.0L228.9 2597.3L231.7 2599.0L233.8 2596.6L236.8 2596.3L239.1 2594.8L241.8 2596.4L244.5 2597.5L247.0 2594.2L249.3 2595.5L252.0 2593.8L253.3 2591.8L255.3 2590.0L256.7 2588.4L258.8 2585.3L259.7 2583.9L261.0 2581.7L262.5 2579.2L263.9 2576.5L264.7 2574.2L266.2 2572.3L266.9 2570.1L268.2 2567.1L269.3 2565.4L270.3 2562.7L271.6 2560.6L272.3 2557.6L273.0 2555.6L274.0 2552.9L274.4 2550.2L275.5 2547.9L275.7 2545.5L277.2 2543.1L277.9 2540.7L278.4 2538.1L279.1 2535.1L279.8 2532.8L281.0 2530.6L281.4 2528.0L281.9 2525.5L283.0 2522.9L283.4 2520.4L284.3 2518.1L285.0 2515.2L286.2 2513.4L288.3 2511.9L291.0 2510.4L291.2 2508.2L292.2 2505.5L293.0 2503.1L293.3 2500.6L294.4 2497.8L294.5 2495.4L294.8 2493.0L295.2 2490.8L295.7 2488.0L295.8 2485.3L296.4 2483.0L296.5 2480.1L297.3 2477.8L297.1 2475.0L297.8 2472.3L298.1 2469.9L298.6 2467.3L298.6 2464.6L298.9 2461.9L299.0 2459.4L299.1 2456.6L299.2 2454.3L299.5 2451.4L300.1 2449.0L300.4 2446.6L300.2 2444.2L300.7 2441.2L300.4 2438.8L301.1 2436.2L301.3 2433.5L301.4 2430.8L301.5 2428.3L301.7 2425.7L302.2 2423.0L302.0 2420.4L302.7 2418.0L302.3 2415.7L303.1 2413.1L302.9 2410.4L303.1 2407.4L303.7 2405.3L303.4 2402.7L303.5 2399.7L304.0 2399.2L304.5 2397.6L304.8 2394.7L304.9 2392.2L305.5 2389.8L305.2 2387.2L305.6 2384.5L305.7 2382.0L306.0 2379.3L306.0 2376.7L306.2 2374.1L306.1 2371.5L306.4 2368.8L306.7 2366.3L306.8 2363.9L306.9 2361.3L306.7 2358.5L306.9 2356.1L307.2 2353.1L306.8 2350.5L306.9 2347.9L306.9 2345.4L307.1 2343.1L307.6 2340.7L307.9 2337.9L308.0 2334.8L307.6 2332.9L307.9 2329.8L308.2 2327.3L308.2 2324.6L308.1 2321.9L308.4 2319.9L308.8 2317.2L308.9 2314.3L308.5 2312.1L308.9 2309.3L308.6 2306.4L309.0 2304.1L309.3 2301.6L309.1 2298.7L309.5 2296.5L309.4 2293.4L309.5 2291.0L309.5 2288.2L309.5 2285.9L309.4 2283.2L310.1 2280.8L309.7 2277.9L309.6 2275.6L310.1 2272.6L310.1 2270.3L310.2 2267.5L310.1 2264.9L310.6 2262.3L310.3 2259.8L310.2 2257.1L310.3 2254.5L310.4 2251.9L310.9 2249.3L310.6 2246.9L310.7 2244.2L310.9 2241.3L311.0 2238.7L310.8 2236.6L311.4 2233.9L310.9 2231.2L311.1 2228.9L311.2 2225.8L311.6 2223.5L311.6 2220.8L312.0 2218.2L312.1 2215.6L311.9 2212.9L312.2 2210.6L312.1 2207.9L312.5 2205.3L312.6 2202.7L312.8 2200.0L312.7 2197.1L313.2 2195.1L313.0 2192.6L313.5 2189.4L313.6 2187.0L313.3 2184.3L313.5 2181.6L313.4 2179.0L313.7 2176.5L313.7 2174.3L314.0 2171.5L314.3 2169.2L314.1 2166.1L314.7 2164.0L314.9 2161.1L314.6 2158.3L315.1 2156.1L315.0 2153.5L315.0 2150.7L315.6 2147.9L315.6 2145.3L315.9 2143.2L315.9 2140.3L315.7 2137.7L316.1 2135.1L316.1 2132.9L316.6 2130.0L317.0 2127.7L317.1 2124.8L317.5 2122.1L317.7 2119.3L317.9 2117.0L318.0 2114.8L318.0 2111.8L318.7 2109.4L318.8 2106.9L319.6 2104.8L320.6 2105.9L320.7 2108.3L320.8 2110.9L321.6 2113.5L321.5 2116.1L322.0 2119.0L321.6 2121.8L322.2 2124.5L321.9 2126.7L322.3 2129.2L322.4 2132.1L322.7 2134.8L322.8 2137.0L323.0 2139.7L322.7 2142.0L323.1 2144.8L322.9 2147.5L323.2 2150.0L323.4 2152.8L323.5 2155.7L323.9 2157.8L324.0 2160.4L324.1 2162.8L323.8 2166.0L324.1 2168.5L323.9 2170.7L324.5 2173.2L324.1 2176.1L324.6 2178.8L324.8 2181.5L324.5 2184.2L324.6 2186.2L325.1 2189.4L325.0 2191.7L324.7 2194.1L324.7 2196.6L325.1 2199.8L325.5 2202.1L325.4 2204.7L325.6 2207.4L325.8 2210.1L325.7 2212.5L325.4 2215.1L325.7 2217.4L325.6 2220.2L325.7 2223.0L325.9 2225.8L326.2 2228.1L326.1 2230.6L326.0 2233.6L326.6 2236.0L326.5 2238.2L326.5 2240.8L326.4 2243.7L326.4 2246.1L326.8 2248.9L327.0 2251.2L326.6 2254.4L327.0 2256.8L327.0 2259.0L327.4 2261.9L327.4 2264.2L327.1 2267.1L327.1 2269.9L327.2 2272.0L327.2 2274.7L327.9 2277.7L327.7 2280.0L327.4 2282.9L327.5 2285.0L327.8 2288.1L327.7 2290.2L328.3 2292.7L328.2 2295.4L328.0 2298.0L328.2 2301.1L328.5 2303.5L328.1 2305.8L328.3 2308.8L328.8 2310.9L328.5 2314.2L328.4 2316.2L328.6 2319.3L328.6 2321.8L328.6 2324.3L328.7 2326.9L329.2 2329.7L329.0 2332.4L329.1 2334.9L329.5 2337.6L329.0 2339.7L329.5 2342.7L329.2 2345.2L329.4 2347.3L329.2 2349.9L329.4 2353.1L329.8 2355.7L330.0 2358.0L329.9 2360.7L330.0 2362.9L330.2 2365.6L329.9 2368.5L330.2 2371.2L330.0 2373.5L330.3 2375.9L330.5 2378.7L330.3 2381.3L330.6 2383.8L330.4 2386.3L330.5 2389.3L331.4 2391.4L331.4 2394.3L331.5 2396.9L331.5 2399.5L331.8 2401.8L331.9 2405.0L332.4 2407.7L332.7 2410.1L332.5 2412.3L333.1 2415.2L333.1 2417.5L333.3 2420.3L333.0 2422.7L333.8 2425.6L333.4 2427.8L334.0 2430.6L334.0 2433.0L334.0 2435.9L334.3 2438.3L334.3 2441.0L334.4 2443.4L334.9 2445.9L335.2 2449.0L335.4 2451.7L335.2 2454.0L335.5 2456.3L336.0 2458.9L336.2 2461.9L336.4 2464.1L336.5 2467.3L336.6 2469.7L336.7 2472.2L337.0 2474.8L337.0 2477.3L337.3 2480.0L337.7 2482.8L337.4 2485.3L337.6 2487.7L338.0 2490.5L337.9 2492.7L338.2 2495.6L338.4 2498.2L339.1 2500.7L338.9 2503.4L339.2 2505.8L339.3 2508.6L339.6 2511.4L339.9 2513.8L340.5 2516.6L340.1 2519.1L340.4 2521.7L341.1 2523.8L341.3 2526.6L341.4 2529.3L341.7 2531.9L342.1 2534.0L342.4 2537.1L342.9 2539.5L343.0 2541.8L343.2 2544.9L343.4 2547.5L343.9 2549.7L344.7 2552.0L345.0 2555.1L345.4 2557.3L345.6 2560.4L346.1 2562.7L347.0 2565.0L347.5 2567.8L347.9 2570.0L349.1 2572.5L349.5 2575.2L350.6 2578.0L351.6 2580.2L352.4 2582.1L353.4 2584.8L354.5 2587.2L355.2 2589.5L357.2 2591.8L358.7 2593.2L360.1 2595.3L362.2 2596.8L364.7 2598.8L365.9 2600.1L368.7 2602.1L371.3 2602.1L373.8 2604.9L375.7 2605.5L377.8 2605.7L379.6 2608.7L382.7 2609.2L384.7 2610.5L387.1 2610.5L389.5 2610.8L392.1 2612.4L394.9 2611.4L395.7 2609.4L396.8 2606.7L397.8 2604.5L397.9 2601.6L398.7 2599.4L399.3 2596.9L400.3 2594.0L400.9 2591.7L401.0 2588.9L401.7 2586.8L402.7 2583.9L403.8 2582.0L404.3 2579.3L404.9 2576.8L405.7 2574.2L406.1 2571.2L407.1 2568.7L407.9 2569.7L408.2 2571.9L408.8 2574.6L408.8 2577.0L409.5 2579.8L409.3 2582.4L410.0 2584.9L410.3 2587.3L410.1 2590.3L410.3 2592.4L410.6 2595.5L411.6 2597.5L412.5 2599.9L413.5 2599.5L413.8 2597.4L414.0 2594.7L413.9 2592.0L414.6 2589.4L414.9 2587.0L415.3 2584.5L415.4 2582.0L416.8 2580.0L417.3 2582.6L417.7 2585.1L418.1 2587.6L418.8 2590.4L419.0 2592.9L419.3 2595.2L419.7 2598.0L419.8 2600.6L420.0 2603.3L420.8 2605.7L420.8 2608.7L421.6 2610.8L421.9 2613.5L423.4 2616.1L426.1 2616.5L428.2 2616.8L430.7 2618.1L433.6 2617.2L436.1 2616.3L438.3 2617.8L441.0 2615.7L443.4 2615.6L445.3 2613.6L446.4 2611.7L446.7 2608.8L447.2 2606.4L447.3 2604.1L447.3 2601.3L447.7 2598.8L447.9 2595.9L448.1 2593.5L448.4 2591.2L449.1 2588.5L449.0 2586.0L449.4 2583.4L450.0 2580.3L450.2 2578.3L450.4 2575.3L451.1 2575.1L451.8 2577.0L452.0 2579.9L452.7 2582.8L452.9 2584.8L453.3 2587.9L453.4 2590.5L453.7 2593.0L453.9 2595.1L454.3 2597.7L454.3 2600.7L454.7 2603.1L455.1 2605.6L455.6 2608.0L455.8 2611.0L456.6 2613.0L457.9 2616.2L459.6 2617.9L461.4 2620.2L463.8 2621.3L466.4 2622.1L468.8 2623.0L471.7 2623.4L474.2 2622.3L476.5 2624.3L479.2 2623.3L481.8 2621.3L484.3 2621.2L486.9 2621.5L489.5 2621.1L492.0 2622.6L494.7 2620.3L497.4 2619.3L499.6 2620.7L501.8 2618.8L502.8 2615.9L503.1 2613.4L503.7 2611.1L504.6 2608.9L506.0 2606.4L507.0 2608.6L507.8 2611.4L507.9 2614.2L508.5 2616.9L508.8 2619.2L509.5 2621.9L510.8 2623.5L512.1 2626.4L514.2 2628.1L516.9 2629.0L519.3 2628.8L521.9 2628.4L524.4 2628.0L527.2 2628.9L529.6 2629.1L532.3 2630.0L534.9 2628.9L537.4 2631.5L540.1 2629.1L542.6 2632.3L545.2 2630.1L547.9 2630.0L550.3 2631.5L552.8 2631.4L555.5 2630.7L558.1 2630.5L560.8 2627.8L562.6 2627.1L565.5 2625.8L567.3 2625.1L569.5 2623.7L572.4 2622.2L575.0 2621.7L577.4 2621.8L580.1 2620.4L582.6 2620.4L585.5 2621.4L587.3 2619.6L588.4 2617.5L589.2 2614.7L591.0 2612.3L592.0 2610.0L594.7 2609.8L596.2 2608.7L598.3 2606.3L600.7 2604.2L602.5 2604.6L604.0 2606.7L604.8 2609.7L606.2 2610.8L609.2 2611.7L610.8 2609.8L612.6 2607.4L613.2 2604.7L614.0 2602.8L615.3 2600.6L616.2 2597.7L617.0 2595.1L617.6 2593.0L618.0 2590.4L619.0 2587.9L618.9 2585.3L619.1 2582.4L620.0 2580.2L620.3 2577.5L620.5 2575.0L620.9 2572.4L621.3 2569.7L621.6 2567.1L621.9 2564.7L622.2 2562.0L622.3 2559.3L622.7 2556.8L622.7 2554.3L623.0 2551.7L623.1 2549.1L623.5 2546.4L623.6 2543.8L623.7 2541.2L624.0 2538.7L624.1 2536.1L624.4 2533.5L624.7 2531.0L624.8 2528.3L625.0 2525.8L625.2 2523.2L625.2 2520.4L625.6 2518.0L625.7 2515.3L625.9 2512.8L626.0 2510.1L626.1 2507.5L626.4 2505.0L626.4 2502.3L626.7 2499.9L627.0 2497.3L627.1 2494.6L627.4 2492.1L627.5 2489.5L627.7 2486.8L627.7 2484.3L628.1 2481.6L628.1 2479.1L628.4 2476.3L628.6 2473.8L628.6 2471.1L628.8 2468.6L628.9 2466.1L629.1 2463.6L629.5 2460.8L629.4 2458.2L629.7 2455.6L629.9 2453.1L629.9 2450.4L630.2 2448.0L630.3 2445.2L630.4 2442.8L630.5 2440.0L630.6 2437.6L630.7 2435.0L631.0 2432.3L631.1 2429.8L631.1 2427.2L631.4 2424.6L631.3 2422.0L631.6 2419.2L631.8 2416.7L631.9 2414.1L631.9 2411.5L632.2 2409.0L632.3 2406.3L632.4 2403.8L632.6 2401.2L632.7 2398.5L632.8 2396.1L633.2 2393.4L633.1 2390.8L633.4 2388.1L633.5 2385.7L633.7 2383.0L633.8 2380.3L633.9 2377.8L634.4 2375.2L634.4 2372.5L634.6 2369.9L634.7 2367.4L634.9 2364.9L635.1 2362.3L635.3 2359.6L635.4 2357.0L635.8 2354.5L635.8 2351.9L636.2 2349.4L636.4 2346.6L636.5 2344.0L637.6 2342.4L638.2 2344.9L638.3 2347.4L638.6 2349.8L639.0 2352.4L639.1 2355.1L639.5 2357.7L639.5 2360.4L639.7 2363.0L640.1 2365.6L640.3 2368.0L640.4 2370.7L640.7 2373.3L640.9 2375.9L641.3 2378.4L641.5 2380.9L641.7 2383.5L641.9 2386.1L642.1 2388.8L642.5 2391.5L642.7 2393.9L642.9 2396.6L643.1 2399.2L643.1 2401.7L643.3 2404.3L643.5 2407.1L643.6 2409.4L643.8 2412.2L644.0 2414.7L644.1 2417.3L644.1 2419.9L644.2 2422.5L644.4 2425.1L644.5 2427.7L644.5 2430.4L644.7 2432.8L644.8 2435.5L645.0 2438.0L645.2 2440.6L645.3 2443.2L645.3 2445.9L645.5 2448.4L645.5 2451.2L645.8 2453.6L645.7 2456.3L645.9 2458.9L646.2 2461.5L646.2 2464.0L646.2 2466.6L646.6 2469.4L646.6 2471.8L646.9 2474.4L646.9 2477.2L647.0 2479.6L647.2 2482.2L647.5 2485.0L647.6 2487.5L647.7 2490.1L648.0 2492.7L648.1 2495.3L648.2 2497.8L648.6 2500.5L648.7 2502.9L648.8 2505.6L649.1 2508.1L649.2 2510.9L649.4 2513.3L649.4 2515.9L649.6 2518.6L649.8 2521.1L650.1 2523.9L650.1 2526.3L650.5 2528.8L650.5 2531.5L650.8 2534.0L651.0 2536.8L651.2 2539.3L651.4 2542.0L651.6 2544.4L651.8 2547.2L651.9 2549.7L652.2 2552.2L652.4 2554.8L652.8 2557.5L653.0 2560.1L653.3 2562.6L653.4 2565.2L653.7 2567.8L654.0 2570.5L654.5 2572.9L654.8 2575.4L654.9 2578.1L655.3 2580.7L655.7 2583.4L656.2 2586.0L656.4 2588.4L657.0 2591.0L657.3 2593.5L657.8 2596.1L658.4 2598.5L659.0 2601.3L659.4 2603.6L660.2 2606.1L661.0 2608.7L661.4 2611.2L662.1 2613.7L663.0 2616.4L663.6 2618.8L664.5 2621.3L665.2 2623.8L666.4 2626.0L667.9 2628.1L669.2 2630.2L671.0 2632.4L672.7 2633.9L674.6 2636.1L676.9 2637.7L679.2 2638.1L681.6 2639.6L684.1 2640.6L686.7 2641.0L689.0 2640.7L691.5 2639.1L693.2 2637.4L694.0 2634.7L694.6 2632.3L694.8 2629.8L695.3 2627.1L695.5 2624.7L695.8 2622.0L696.2 2619.3L696.8 2616.8L697.6 2614.7L698.8 2616.2L699.5 2618.7L700.0 2621.2L700.3 2623.6L700.7 2626.4L700.9 2628.8L701.5 2631.4L701.8 2633.9L702.4 2636.6L702.8 2639.2L703.7 2641.6L705.5 2643.4L708.0 2643.5L710.6 2645.1L713.2 2645.3L715.0 2643.2L716.1 2641.0L717.3 2638.3L718.2 2636.1L719.6 2633.9L721.4 2632.8L722.3 2635.3L722.8 2637.6L723.8 2640.1L724.4 2642.6L725.9 2644.8L728.2 2646.4L730.6 2647.0L732.9 2648.5L735.5 2647.7L738.2 2647.6L740.7 2647.5L743.2 2646.7L745.9 2647.1L748.4 2646.8L750.9 2645.3L753.4 2645.4L755.9 2644.8L758.4 2643.4L760.5 2641.6L762.6 2640.2L765.0 2641.1L766.7 2642.8L769.0 2644.3L771.7 2643.7L774.2 2643.9L776.8 2643.8L779.4 2644.7L781.9 2644.4L783.6 2642.3L784.5 2639.8L785.2 2637.2L785.7 2634.7L786.4 2632.4L787.6 2630.0L788.9 2627.9L791.0 2626.9L791.9 2629.5L793.0 2631.8L793.6 2634.4L794.5 2636.6L795.6 2639.1L796.5 2641.6L798.1 2643.8L799.5 2645.9L801.8 2646.9L804.4 2647.2L806.9 2647.2L809.5 2647.2L811.7 2646.3L814.1 2644.9L816.3 2643.2L818.6 2641.6L820.9 2640.5L823.5 2640.6L826.1 2641.5L828.7 2640.8L831.1 2640.8L833.7 2639.5L835.8 2638.3L837.9 2636.7L839.4 2634.3L840.4 2632.0L841.5 2629.8L842.7 2627.2L843.7 2625.0L844.9 2622.6L846.4 2620.6L847.6 2618.3L848.7 2615.9L849.6 2613.4L850.1 2610.8L850.9 2608.5L851.5 2605.9L852.3 2603.2L852.9 2600.8L853.6 2598.2L854.0 2595.9L854.6 2593.3L855.0 2590.6L855.5 2588.0L856.0 2585.6L856.4 2583.1L856.7 2580.3L857.2 2577.8L857.5 2575.3L858.0 2572.7L858.3 2570.0L858.5 2567.5L858.8 2564.9L859.0 2562.3L859.3 2559.6L859.7 2557.1L859.9 2554.6L860.1 2552.0L860.2 2549.4L860.4 2546.7L860.7 2544.3L860.9 2541.7L861.1 2539.1L861.3 2536.5L861.4 2533.8L861.5 2531.2L862.0 2528.7L862.0 2526.1L862.2 2523.5L862.4 2520.9L862.6 2518.3L862.6 2515.6L862.8 2513.1L863.1 2510.6L863.1 2508.0L863.3 2505.3L863.6 2502.7L863.6 2500.2L863.7 2497.5L863.8 2494.9L864.1 2492.2L864.1 2489.6L864.3 2487.0L864.4 2484.5L864.6 2481.9L864.6 2479.4L864.7 2476.9L864.9 2474.2L865.1 2471.6L865.1 2469.0L865.2 2466.4L865.4 2463.9L865.6 2461.2L865.6 2458.7L865.8 2455.9L865.9 2453.4L866.0 2450.7L866.0 2448.1L866.2 2445.5L866.3 2443.1L866.4 2440.4L866.5 2437.8L866.7 2435.1L867.0 2432.6L867.1 2430.0L867.2 2427.3L867.2 2424.8L867.4 2422.1L867.7 2419.6L867.8 2417.0L867.8 2414.5L867.9 2411.8L868.3 2409.3L868.4 2406.7L868.3 2403.9L868.5 2401.5L868.8 2398.7L868.8 2396.1L868.9 2393.7L869.0 2391.0L869.1 2388.5L869.3 2385.7L869.4 2383.2L869.6 2380.6L869.9 2378.0L870.4 2375.6L870.6 2373.0L871.3 2370.5L873.0 2369.0L874.8 2370.6L875.8 2373.0L876.7 2375.3L877.2 2378.1L877.5 2380.5L877.5 2383.1L877.7 2385.7L877.8 2388.4L877.9 2390.8L877.9 2393.6L878.0 2396.2L878.1 2398.7L878.2 2401.4L878.3 2404.0L878.4 2406.4L878.5 2409.2L878.7 2411.6L878.9 2414.2L879.0 2417.0L879.2 2419.6L879.3 2422.1L879.4 2424.8L879.5 2427.4L879.7 2429.9L879.8 2432.5L879.9 2435.0L880.1 2437.6L880.2 2440.4L880.4 2442.8L880.6 2445.4L880.5 2447.9L880.8 2450.6L880.7 2453.2L881.0 2455.8L881.0 2458.4L881.3 2461.1L881.5 2463.8L881.5 2466.2L881.6 2468.9L881.8 2471.4L882.0 2474.0L882.0 2476.6L882.0 2479.3L882.3 2481.8L882.4 2484.4L882.4 2486.9L882.6 2489.6L882.8 2492.2L883.0 2494.9L882.9 2497.4L883.2 2499.9L883.2 2502.5L883.5 2505.3L883.6 2507.9L883.6 2510.5L883.8 2512.9L883.9 2515.7L884.1 2518.2L884.3 2520.8L884.6 2523.3L884.8 2526.0L884.8 2528.6L885.1 2531.0L885.2 2533.7L885.4 2536.3L885.8 2538.9L886.0 2541.4L886.2 2544.1L886.3 2546.7L886.4 2549.3L886.7 2552.0L886.9 2554.5L887.2 2557.0L887.5 2559.6L887.7 2562.3L888.0 2564.9L888.2 2567.5L888.3 2569.9L888.5 2572.5L888.9 2575.2L889.1 2577.7L889.4 2580.3L889.6 2582.9L890.0 2585.5L890.4 2588.1L890.7 2590.7L891.3 2593.3L891.7 2595.9L891.9 2598.4L892.6 2600.8L893.1 2603.5L893.6 2606.0L894.2 2608.5L894.5 2611.1L895.3 2613.5L896.0 2616.0L896.9 2618.7L897.6 2621.2L898.5 2623.5L899.7 2626.0L901.0 2628.0L902.3 2630.4L903.8 2632.4L905.4 2634.6L907.1 2636.8L909.0 2638.1L910.9 2639.7L912.9 2641.2L915.0 2642.7L917.4 2644.7L919.7 2645.9L922.0 2646.8L924.2 2647.5L926.7 2648.6L929.2 2649.7L931.4 2651.1L933.8 2651.8L936.5 2653.0L938.8 2653.5L941.5 2653.5L943.9 2654.3L946.5 2654.5L949.1 2654.5L951.7 2655.7L954.3 2655.8L956.8 2655.1L959.3 2655.1L962.0 2653.9L964.0 2652.7L966.6 2652.3L968.8 2653.1L971.1 2654.6L973.5 2654.9L976.0 2656.3L978.5 2656.7L981.0 2657.0L983.6 2657.6L986.0 2656.5L988.3 2655.0L990.4 2653.7L992.7 2652.5L995.0 2653.5L997.3 2654.7L999.9 2654.9L1002.4 2654.1L1005.0 2653.9L1007.5 2653.4L1010.1 2653.2L1012.5 2651.9L1015.1 2651.4L1017.5 2650.1L1019.9 2649.5L1021.8 2647.9L1023.1 2645.6L1024.6 2643.1L1025.4 2640.9L1026.4 2638.5L1027.4 2635.9L1029.6 2634.3L1031.9 2635.7L1033.9 2636.7L1035.8 2635.9L1036.8 2633.6L1037.7 2631.2L1039.0 2628.8L1040.5 2626.5L1042.1 2624.7L1044.0 2622.8L1046.3 2624.0L1048.0 2626.0L1049.8 2627.9L1051.2 2630.2L1052.8 2632.4L1054.2 2634.3L1055.7 2636.6L1056.8 2638.8L1058.6 2640.7L1060.1 2642.9L1061.6 2645.0L1063.4 2647.2L1065.1 2649.0L1066.7 2651.0L1069.2 2651.9L1071.7 2651.1L1074.0 2649.9L1076.3 2648.4L1078.1 2646.8L1080.2 2644.8L1081.5 2642.7L1083.4 2641.1L1084.8 2638.6L1086.2 2636.6L1087.7 2634.4L1089.0 2632.3L1090.0 2629.7L1091.0 2627.6L1092.4 2625.0L1093.4 2622.8L1094.3 2620.4L1095.3 2617.9L1096.1 2615.4L1097.0 2613.0L1097.8 2610.7L1098.6 2607.9L1099.4 2605.7L1100.1 2603.0L1100.5 2600.4L1101.2 2598.1L1101.9 2595.5L1102.4 2592.9L1103.1 2590.5L1103.8 2587.8L1104.6 2585.3L1104.9 2582.9L1105.7 2580.3L1106.0 2577.7L1106.5 2575.2L1106.9 2572.5L1107.2 2570.1L1107.6 2567.5L1108.1 2564.9L1108.5 2562.2L1108.6 2559.6L1109.1 2557.1L1109.3 2554.5L1109.7 2551.9L1110.0 2549.3L1110.3 2546.9L1110.5 2544.1L1110.6 2541.6L1111.1 2539.1L1111.3 2536.4L1111.6 2533.9L1111.8 2531.4L1112.1 2528.6L1112.3 2526.2L1112.5 2523.5L1112.7 2520.8L1112.9 2518.4L1113.2 2515.7L1113.4 2513.2L1113.6 2510.7L1113.7 2508.0L1114.0 2505.5L1114.0 2502.7L1114.5 2500.3L1114.7 2497.7L1114.9 2495.1L1114.9 2492.5L1115.3 2490.0L1115.4 2487.4L1115.6 2484.5L1115.7 2482.2L1116.0 2479.4L1116.0 2477.0L1116.2 2474.4L1116.5 2471.6L1116.6 2469.1L1116.6 2466.6L1116.8 2463.9L1117.0 2461.4L1117.2 2458.6L1117.3 2456.1L1117.4 2453.4L1117.4 2451.0L1117.7 2448.3L1117.8 2445.7L1118.0 2443.2L1118.1 2440.5L1118.1 2438.0L1118.4 2435.4L1118.5 2432.8L1118.6 2430.1L1118.6 2427.5L1118.9 2424.9L1119.0 2422.3L1119.1 2419.7L1119.2 2417.2L1119.4 2414.7L1119.7 2412.0L1119.8 2409.5L1120.0 2406.9L1120.1 2404.3L1120.5 2401.7L1120.6 2398.9L1121.0 2396.5L1121.0 2393.9L1121.4 2391.2L1121.6 2388.6L1121.7 2386.2L1122.2 2383.4L1122.8 2380.9L1123.9 2383.2L1124.2 2385.9L1124.6 2388.5L1124.6 2391.1L1124.9 2393.8L1125.0 2396.2L1125.2 2398.8L1125.3 2401.4L1125.5 2404.1L1125.5 2406.5L1125.6 2409.4L1125.7 2411.8L1125.9 2414.5L1126.0 2417.0L1126.2 2419.6L1126.3 2422.2L1126.5 2424.9L1126.7 2427.4L1126.7 2430.0L1126.7 2432.8L1126.9 2435.3L1127.1 2437.7L1127.3 2440.5L1127.3 2443.0L1127.5 2445.7L1127.7 2448.3L1127.7 2450.8L1127.9 2453.4L1128.0 2456.1L1128.2 2458.5L1128.2 2461.1L1128.3 2463.7L1128.6 2466.4L1128.6 2469.0L1128.8 2471.5L1128.8 2474.1L1129.0 2476.7L1129.1 2479.4L1129.4 2481.9L1129.3 2484.6L1129.6 2487.2L1129.6 2489.9L1129.7 2492.4L1129.9 2494.9L1130.0 2497.7L1130.3 2500.3L1130.6 2502.7L1130.7 2505.3L1130.8 2508.1L1131.0 2510.6L1131.2 2513.0L1131.4 2515.6L1131.5 2518.4L1131.7 2521.0L1132.0 2523.5L1131.9 2526.2L1132.2 2528.8L1132.4 2531.2L1132.6 2533.8L1132.8 2536.4L1132.9 2539.0L1133.1 2541.6L1133.1 2544.1L1133.5 2547.0L1133.5 2549.3L1133.6 2552.1L1133.8 2554.5L1134.0 2557.3L1134.2 2559.8L1134.6 2562.4L1134.6 2565.1L1135.0 2567.7L1135.3 2570.1L1135.4 2572.7L1135.8 2575.3L1136.1 2578.0L1136.2 2580.5L1136.6 2583.1L1136.9 2585.6L1137.3 2588.3L1137.6 2590.9L1137.8 2593.3L1138.1 2595.9L1138.5 2598.6L1138.8 2601.1L1139.4 2603.8L1139.7 2606.4L1140.1 2608.9L1140.7 2611.5L1141.2 2614.0L1141.8 2616.4L1142.3 2619.1L1142.8 2621.6L1143.4 2624.1L1144.1 2626.8L1144.8 2629.2L1145.4 2631.8L1146.0 2634.1L1146.8 2636.8L1147.4 2639.2L1148.7 2641.5L1149.9 2643.6L1151.8 2645.5L1153.4 2647.4L1155.1 2649.2L1157.4 2651.1L1159.7 2652.1L1162.0 2652.7L1164.0 2650.8L1165.7 2648.8L1167.5 2646.7L1168.6 2644.4L1169.9 2642.2L1171.3 2640.0L1172.3 2637.6L1173.5 2635.1L1174.5 2633.0L1176.4 2631.1L1178.2 2629.1L1180.8 2629.0L1182.5 2631.0L1184.0 2633.1L1185.4 2635.4L1186.2 2637.7L1186.8 2640.2L1187.5 2642.8L1188.5 2645.2L1189.3 2647.6L1190.2 2650.2L1191.1 2652.7L1192.0 2655.0L1193.1 2657.4L1194.6 2659.5L1196.2 2661.4L1198.3 2663.2L1200.8 2664.5L1203.2 2664.5L1205.6 2665.1L1208.2 2665.9L1210.9 2666.0L1213.5 2666.1L1215.8 2666.6L1218.5 2667.5L1220.8 2668.9L1223.4 2668.8L1225.8 2668.4L1228.4 2667.6L1230.9 2666.4L1233.2 2665.6L1235.7 2664.8L1238.2 2664.4L1240.4 2662.8L1242.3 2660.8L1244.1 2658.9L1245.5 2657.2L1247.1 2654.7L1248.6 2652.5L1249.6 2650.3L1250.5 2648.0L1251.6 2645.6L1252.4 2643.0L1253.1 2640.5L1254.0 2638.0L1254.8 2635.6L1255.5 2633.2L1256.2 2630.5L1257.1 2628.0L1257.6 2625.6L1258.4 2623.2L1259.2 2620.5L1260.0 2618.3L1261.0 2615.8L1262.6 2613.6L1264.5 2613.0L1266.4 2615.2L1267.6 2617.4L1268.4 2619.7L1269.2 2622.2L1269.8 2624.8L1270.6 2627.2L1271.1 2629.6L1271.7 2632.2L1272.4 2634.7L1273.2 2637.4L1273.9 2639.7L1274.8 2642.3L1275.6 2644.8L1276.4 2647.2L1277.4 2649.4L1278.3 2652.0L1279.5 2654.3L1280.3 2656.9L1281.6 2658.9L1282.8 2661.3L1284.6 2663.4L1286.1 2665.3L1288.0 2667.5L1289.7 2669.3L1291.9 2670.2L1294.5 2671.1L1296.8 2672.6L1299.2 2672.7L1301.8 2673.4L1304.4 2674.6L1307.0 2674.5L1309.5 2674.1L1312.1 2675.3L1314.7 2674.6L1317.3 2674.9L1319.9 2675.8L1322.5 2676.0L1325.1 2675.2L1327.7 2675.7L1330.3 2676.1L1332.9 2675.8L1335.5 2675.4L1338.0 2674.5L1340.6 2673.9L1343.2 2674.2L1345.8 2673.1L1348.2 2672.4L1350.7 2671.9L1353.1 2671.7L1355.7 2670.8L1357.9 2669.0L1360.5 2667.8L1362.5 2666.8L1364.8 2665.3L1367.0 2663.9L1368.9 2662.0L1371.2 2660.5L1373.1 2659.2L1375.1 2657.4L1377.0 2655.4L1378.9 2654.2L1381.0 2652.7L1383.5 2651.7L1386.1 2651.2L1388.6 2650.8L1390.6 2652.6L1392.7 2654.3L1394.8 2656.0L1396.7 2657.9L1398.4 2659.8L1400.3 2661.5L1402.2 2663.4L1404.1 2665.0L1406.2 2666.7L1408.2 2668.2L1410.0 2669.7L1412.4 2671.2L1414.9 2671.9L1417.4 2672.3L1419.9 2673.5L1422.5 2674.2L1425.0 2674.1L1427.7 2674.4L1430.3 2673.4L1432.9 2673.2L1435.4 2672.9L1438.1 2672.5L1440.6 2672.4L1443.2 2673.1L1445.9 2672.8L1447.8 2671.1L1449.1 2669.1L1450.5 2666.9L1451.5 2664.5L1452.5 2662.1L1453.3 2659.7L1454.2 2657.2L1454.8 2654.7L1455.7 2652.2L1456.5 2649.6L1456.9 2647.1L1457.5 2644.6L1458.1 2641.9L1458.4 2639.5L1458.7 2636.9L1459.2 2634.2L1459.5 2631.7L1459.9 2629.2L1460.2 2626.6L1460.6 2624.1L1460.8 2621.5L1461.4 2618.9L1461.8 2616.2L1462.0 2613.7L1462.5 2611.3L1463.1 2608.7L1463.4 2606.2L1464.2 2603.5L1465.0 2600.9L1466.3 2598.9L1468.2 2597.4L1470.6 2598.4L1472.1 2600.5L1473.4 2602.6L1474.0 2605.2L1474.6 2607.8L1475.2 2610.2L1475.8 2612.7L1476.3 2615.3L1477.2 2617.8L1477.9 2620.2L1479.5 2622.2L1481.2 2621.9L1481.9 2619.5L1482.5 2617.0L1483.0 2614.5L1483.5 2612.1L1483.9 2609.5L1484.2 2606.9L1484.7 2604.2L1485.0 2601.5L1485.4 2599.1L1485.9 2596.7L1486.5 2594.1L1488.4 2592.6L1490.0 2594.0L1490.8 2596.7L1491.6 2598.9L1492.1 2601.5L1492.3 2604.1L1492.7 2606.7L1493.0 2609.3L1493.5 2612.0L1493.6 2614.5L1493.9 2617.0L1494.3 2619.5L1494.6 2622.3L1494.7 2624.7L1494.9 2627.5L1495.3 2629.9L1495.6 2632.4L1496.0 2635.1L1496.3 2637.7L1496.7 2640.1L1497.1 2642.8L1497.4 2645.4L1497.7 2647.9L1498.2 2650.5L1498.7 2653.1L1499.0 2655.7L1499.9 2658.3L1500.5 2660.6L1501.8 2663.1L1502.8 2665.3L1504.4 2667.5L1506.5 2669.1L1508.9 2670.5L1511.2 2670.8L1513.6 2671.0L1516.2 2670.6L1518.1 2669.2L1520.1 2667.5L1521.8 2665.8L1523.6 2663.3L1524.8 2661.3L1526.3 2659.3L1527.6 2657.0L1529.2 2654.8L1531.0 2653.2L1532.8 2651.2L1535.1 2650.3L1537.8 2649.2L1540.3 2649.4L1542.9 2649.1L1545.1 2648.2L1547.6 2646.4L1549.9 2644.9L1552.2 2645.3L1554.5 2646.5L1556.0 2648.3L1557.5 2650.7L1559.1 2652.7L1560.4 2655.2L1561.6 2657.3L1562.7 2659.8L1563.9 2661.9L1565.7 2663.9L1567.2 2666.0L1568.9 2668.3L1570.6 2670.2L1572.2 2672.2L1574.4 2673.8L1576.4 2675.0L1578.7 2676.5L1580.9 2677.1L1583.4 2678.8L1585.9 2679.1L1588.4 2679.3L1591.0 2680.5L1593.6 2680.9L1596.2 2680.2L1598.7 2680.6L1601.4 2681.1L1603.9 2680.3L1606.5 2679.6L1609.0 2679.0L1611.3 2678.1L1613.7 2676.8L1616.2 2676.2L1618.6 2674.8L1620.6 2673.1L1622.9 2672.2L1624.8 2670.4L1626.5 2668.2L1627.8 2665.9L1629.2 2663.9L1630.7 2661.5L1632.0 2659.6L1632.9 2656.9L1633.9 2654.8L1634.9 2652.3L1635.7 2649.8L1636.5 2647.3L1637.0 2644.7L1637.8 2642.2L1638.5 2639.7L1639.1 2637.3L1639.8 2634.7L1640.6 2632.3L1641.1 2629.8L1641.8 2627.1L1642.5 2624.5L1643.0 2622.2L1643.8 2619.6L1644.2 2617.0L1644.9 2614.7L1645.6 2612.0L1646.3 2609.6L1646.8 2607.1L1647.5 2604.6L1648.1 2601.9L1649.1 2599.6L1649.9 2597.2L1650.9 2594.5L1652.4 2593.1L1654.7 2593.3L1656.3 2595.0L1657.5 2597.2L1658.2 2599.8L1658.9 2602.4L1659.4 2605.0L1659.8 2607.5L1660.5 2610.2L1660.9 2612.5L1661.3 2615.2L1661.8 2617.6L1662.3 2620.4L1662.8 2623.0L1663.3 2625.3L1663.8 2627.9L1664.4 2630.6L1664.9 2633.1L1665.3 2635.5L1666.0 2638.0L1666.5 2640.8L1667.2 2643.2L1667.7 2645.8L1668.2 2648.1L1668.9 2650.9L1669.4 2653.4L1670.1 2655.8L1670.9 2658.3L1671.7 2660.7L1672.4 2663.3L1673.5 2665.6L1674.5 2667.9L1675.7 2670.4L1677.1 2672.6L1678.6 2674.9L1679.9 2677.0L1682.0 2678.9L1684.1 2679.9L1686.4 2681.2L1687.9 2680.6L1690.4 2681.7L1692.6 2682.4L1695.1 2683.6L1697.2 2684.5L1699.9 2686.0L1702.3 2686.5L1704.8 2687.3L1707.5 2687.7L1710.0 2687.2L1712.6 2688.4L1715.2 2687.9L1717.7 2688.7L1720.3 2689.0L1723.0 2689.0L1725.5 2689.5L1728.1 2689.6L1730.7 2689.3L1733.3 2689.8L1735.9 2689.1L1738.5 2689.2L1741.1 2689.9L1743.7 2689.8L1746.3 2689.6L1748.9 2689.4L1751.5 2689.0L1754.1 2690.0L1756.7 2688.9L1759.3 2689.5L1761.9 2689.2L1764.5 2689.5L1767.2 2689.4L1769.6 2688.6L1772.3 2689.0L1774.9 2687.8L1777.4 2687.3L1780.0 2687.1L1782.5 2686.7L1785.2 2686.7L1787.8 2687.4L1790.4 2686.7L1793.0 2686.3L1795.6 2686.3L1798.2 2686.3L1800.8 2686.6L1803.2 2686.6L1805.8 2685.5L1808.1 2684.3L1810.5 2682.9L1812.8 2681.8L1815.3 2681.4L1817.8 2681.2L1820.4 2681.3L1822.8 2682.4L1825.0 2683.3L1827.3 2684.6L1829.8 2686.0L1832.1 2687.0L1834.6 2687.0L1837.0 2688.4L1839.7 2688.9L1842.3 2689.1L1844.8 2689.1L1847.4 2688.4L1850.1 2688.2L1852.4 2688.1L1854.7 2687.0L1857.1 2685.5L1859.7 2684.9L1861.9 2683.0L1863.9 2681.7L1866.4 2680.5L1868.3 2679.3L1870.7 2677.6L1872.7 2676.4L1875.3 2675.2L1877.8 2675.3L1880.4 2674.8L1883.1 2675.5L1885.4 2676.0L1887.6 2677.1L1890.1 2678.2L1892.7 2678.5L1895.3 2679.1L1897.8 2679.1L1900.4 2679.9L1903.1 2679.1L1905.5 2678.4L1908.2 2677.9L1910.7 2677.2L1913.3 2678.1L1915.6 2677.9L1918.2 2679.6L1920.5 2680.2L1922.9 2681.6L1924.9 2683.5L1927.0 2684.9L1929.4 2686.0L1931.5 2687.4L1934.1 2687.6L1936.7 2688.0L1939.3 2688.7L1941.9 2688.0L1944.3 2688.2L1947.1 2687.6L1949.1 2686.1L1951.0 2684.0L1952.3 2682.2L1954.1 2680.0L1955.3 2677.8L1956.4 2675.3L1957.2 2672.7L1958.2 2670.5L1959.0 2667.9L1959.9 2665.5L1961.1 2663.1L1962.2 2660.8L1963.7 2659.1L1965.8 2657.1L1968.0 2656.4L1969.8 2658.1L1971.3 2660.5L1972.4 2662.7L1973.3 2665.1L1974.3 2667.6L1975.0 2669.9L1976.1 2672.5L1977.1 2674.8L1978.4 2676.9L1979.8 2679.5L1981.2 2681.4L1983.1 2683.7L1985.1 2684.9L1987.4 2686.5L1989.7 2686.3L1992.2 2685.7L1994.8 2685.2L1997.1 2684.6L1999.6 2683.7L2002.0 2683.2L2004.5 2681.5L2006.9 2680.8L2009.5 2680.4L2011.7 2682.0L2013.6 2683.6L2015.7 2685.1L2017.7 2686.9L2019.5 2688.9L2021.6 2689.9L2024.2 2691.2L2026.3 2692.6L2028.6 2694.0L2031.2 2694.2L2033.7 2695.3L2036.3 2695.7L2039.0 2695.0L2041.5 2695.6L2044.1 2695.7L2046.7 2695.9L2049.3 2695.9L2051.9 2695.0L2054.6 2695.3L2057.1 2695.1L2059.7 2694.6L2062.3 2694.5L2064.9 2695.2L2067.5 2695.2L2069.7 2694.7"/>
<path stroke="#ff742a" stroke-width="7.6" d="M132.9 2747.2L133.4 2749.8L134.4 2752.4L134.9 2754.4L135.7 2756.9L136.9 2759.3L137.7 2761.8L138.5 2764.3L140.0 2766.8L140.5 2768.9L141.7 2771.8L143.3 2774.0L144.5 2776.3L145.8 2778.7L146.6 2781.0L148.3 2783.1L149.8 2784.8L151.3 2786.9L152.8 2788.6L154.9 2791.3L156.7 2793.3L157.9 2795.3L159.2 2797.3L161.2 2798.7L162.7 2801.0L164.5 2802.9L166.6 2804.7L168.0 2806.7L169.9 2808.2L171.7 2810.2L173.4 2812.4L176.0 2814.0L177.6 2816.5L178.9 2817.2L181.6 2819.9L183.5 2820.4L185.4 2823.0L188.1 2824.3L189.7 2825.8L192.1 2826.9L194.1 2828.6L196.8 2829.4L198.8 2830.5L201.4 2831.7L203.5 2833.1L205.8 2833.4L208.1 2835.2L210.4 2835.4L212.8 2837.2L215.6 2838.0L217.6 2838.8L220.2 2839.1L222.4 2841.9L224.9 2841.4L227.4 2843.0L229.7 2843.6L232.4 2845.2L234.6 2845.0L237.4 2847.2L239.9 2846.9L242.5 2847.3L244.5 2848.5L247.6 2849.8L249.7 2850.4L252.6 2850.1L254.9 2851.0L257.2 2851.5L259.7 2852.3L262.1 2853.1L264.7 2854.6L267.5 2853.4L270.1 2854.4L272.5 2855.8L275.0 2855.6L277.6 2855.8L280.4 2856.2L282.9 2857.0L285.2 2857.9L287.6 2857.8L290.3 2859.1L293.1 2860.9L295.3 2860.3L297.9 2861.3L300.6 2861.9L303.2 2860.3L305.6 2861.0L308.5 2861.1L310.9 2862.0L313.5 2863.5L316.0 2863.7L318.7 2864.6L321.2 2864.9L323.8 2864.4L326.4 2865.4L329.1 2864.0L331.4 2865.4L334.2 2865.8L336.6 2867.2L339.2 2865.3L341.7 2865.4L344.5 2865.9L347.1 2868.1L349.7 2868.3L352.2 2868.0L354.9 2868.5L357.3 2868.9L359.9 2867.8L362.6 2868.4L365.1 2869.4L367.7 2867.3L370.3 2868.1L372.9 2870.1L375.5 2869.9L378.1 2868.7L380.8 2869.7L383.3 2868.2L385.9 2869.9L388.5 2867.8L391.1 2868.4L393.7 2868.5L396.2 2868.9L398.8 2866.8L401.5 2867.1L404.2 2867.3L406.7 2867.9L409.2 2867.4L411.9 2866.4L414.5 2865.1L417.1 2865.2L419.7 2865.1L422.2 2865.9L424.8 2865.1L427.4 2866.1L429.9 2866.1L432.4 2866.2L435.3 2866.4L437.6 2866.1L440.4 2867.5L443.0 2868.7L445.2 2869.7L448.1 2870.1L450.6 2870.5L453.0 2871.2L455.4 2871.0L457.7 2872.7L460.5 2871.9L463.0 2873.9L465.4 2874.9L468.1 2874.7L470.6 2875.7L473.0 2876.1L475.7 2876.9L478.2 2877.3L480.6 2879.3L483.1 2878.8L485.3 2879.7L488.0 2881.1L490.7 2882.0L493.1 2881.1L495.7 2882.3L498.1 2881.4L500.7 2882.0L503.4 2884.0L505.9 2884.1L508.6 2882.4L511.3 2882.3L513.7 2882.6L516.3 2883.5L518.9 2883.0L521.5 2884.6L524.1 2883.6L526.8 2885.5L529.4 2885.2L532.0 2885.6L534.6 2884.0L537.1 2885.4L539.7 2885.2L542.4 2884.3L545.0 2885.1L547.5 2884.7L550.1 2885.7L552.7 2886.8L555.3 2886.3L557.9 2886.1L560.5 2886.5L563.2 2884.7L565.8 2884.5L568.3 2884.0L570.9 2883.8L573.5 2884.9L576.1 2885.2L578.6 2884.0L581.3 2882.9L583.9 2883.0L586.4 2884.9L589.1 2883.9L591.7 2882.9L594.2 2883.9L596.9 2882.8L599.5 2882.4L602.1 2884.3L604.7 2882.4L607.3 2883.4L609.9 2884.3L612.5 2883.0L615.1 2882.3L617.6 2882.7L620.2 2881.1L622.6 2881.3L625.2 2880.5L627.8 2880.2L630.4 2880.0L633.0 2879.3L635.5 2878.8L638.1 2878.7L640.7 2878.2L643.3 2877.6L645.8 2876.8L648.3 2876.6L650.9 2876.6L653.4 2875.7L656.1 2875.4L658.7 2875.1L661.2 2874.9L663.6 2873.8L666.0 2873.5L668.6 2872.5L671.0 2871.3L673.5 2870.9L676.0 2870.3L678.4 2869.8L680.9 2869.2L683.4 2868.5L686.0 2867.3L688.6 2866.7L691.0 2865.6L693.6 2865.4L696.0 2864.3L698.6 2864.6L701.2 2863.6L703.6 2863.5L706.2 2862.9L708.8 2862.5L711.3 2861.9L713.9 2860.7L716.5 2860.7L719.1 2861.2L721.7 2860.5L724.2 2860.1L726.8 2859.9L729.4 2859.7L732.0 2859.7L734.6 2859.5L737.2 2860.0L739.8 2860.2L742.4 2860.2L745.0 2859.6L747.6 2859.0L750.2 2858.8L752.8 2859.1L755.4 2858.6L757.9 2858.4L760.5 2857.5L763.1 2857.3L765.7 2857.2L768.3 2856.5L770.8 2856.0L773.3 2855.7L775.5 2854.5L777.9 2852.9L780.2 2852.0L782.6 2850.8L784.6 2849.6L787.0 2848.0L789.1 2846.6L791.4 2845.0L793.3 2843.8L795.5 2841.8L797.7 2840.2L799.5 2838.9L801.6 2837.4L803.4 2835.4L805.5 2833.6L807.3 2831.8L809.2 2830.2L810.9 2828.2L812.7 2826.4L814.6 2824.5L816.4 2822.5L818.2 2820.4L819.8 2818.4L821.5 2816.7L823.1 2814.8L824.8 2812.6L826.4 2810.7L828.1 2808.5L829.7 2806.8L831.3 2804.7L832.9 2802.3L834.4 2800.3L835.7 2798.2L837.3 2795.9L838.9 2793.7L840.3 2791.8L842.2 2790.1L844.2 2788.3L846.6 2787.9L848.5 2789.8L849.8 2792.1L851.3 2794.4L852.2 2796.8L853.3 2799.0L854.2 2801.6L855.2 2803.8L856.2 2806.4L857.3 2808.8L858.4 2810.9L859.6 2813.2L860.8 2815.8L861.8 2818.1L863.0 2820.2L864.3 2822.6L865.4 2825.0L866.5 2827.2L868.0 2829.6L869.1 2831.9L870.4 2833.9L871.8 2836.1L873.3 2838.4L875.1 2840.1L877.0 2841.9L879.0 2844.1L881.0 2845.3L883.2 2846.6L885.6 2847.6L888.0 2848.8L890.6 2848.8L893.0 2850.2L895.2 2851.5L897.0 2853.3L898.5 2855.3L900.0 2857.5L901.5 2859.6L902.6 2862.1L904.1 2864.3L905.5 2866.2L907.0 2868.3L908.7 2870.5L910.2 2872.5L911.7 2874.6L913.8 2876.4L915.5 2878.1L917.4 2879.7L919.7 2881.7L921.8 2882.7L924.0 2884.4L926.3 2885.1L928.6 2886.1L931.0 2887.2L933.6 2888.6L936.0 2888.7L938.6 2889.0L941.1 2890.0L943.8 2890.1L946.3 2890.1L948.9 2890.5L951.5 2890.6L954.1 2890.5L956.7 2890.5L959.3 2890.9L962.0 2890.8L964.3 2889.7L966.6 2888.1L968.5 2886.7L970.2 2884.7L971.7 2882.4L973.3 2880.4L974.3 2878.2L975.5 2875.8L976.6 2873.5L977.7 2870.9L978.5 2868.6L979.5 2866.1L980.4 2863.6L981.1 2861.1L981.9 2858.6L983.0 2856.3L983.8 2853.8L985.6 2852.1L987.9 2851.1L990.0 2852.2L992.1 2854.0L993.4 2856.1L994.7 2858.5L996.1 2860.9L997.6 2862.7L999.7 2864.7L1001.7 2865.6L1004.2 2864.9L1006.0 2863.4L1007.5 2861.2L1008.7 2858.9L1010.2 2856.4L1011.1 2854.4L1012.4 2851.9L1013.3 2849.4L1014.4 2847.1L1015.2 2844.7L1016.0 2842.2L1017.0 2839.9L1017.7 2837.3L1018.5 2834.8L1019.1 2832.2L1019.9 2829.7L1020.6 2827.1L1021.4 2824.7L1022.0 2822.3L1022.6 2819.7L1023.3 2817.2L1023.8 2814.6L1024.5 2812.3L1025.1 2809.8L1025.9 2807.3L1026.5 2804.6L1027.0 2802.1L1027.8 2799.6L1028.5 2797.0L1029.1 2794.6L1029.8 2792.0L1030.5 2789.4L1031.1 2787.0L1031.9 2784.5L1032.7 2782.0L1033.5 2779.6L1034.4 2777.1L1035.4 2774.9L1036.9 2772.4L1038.9 2770.8L1041.3 2771.1L1043.6 2771.5L1045.5 2773.6L1046.7 2776.0L1047.6 2778.3L1048.4 2780.8L1049.4 2783.2L1050.1 2785.6L1050.9 2788.3L1051.5 2790.8L1052.0 2793.2L1052.5 2795.8L1053.3 2798.4L1053.8 2801.0L1054.3 2803.4L1054.8 2806.0L1055.5 2808.5L1056.1 2811.1L1056.5 2813.5L1057.2 2816.1L1057.7 2818.6L1058.3 2821.1L1058.9 2823.6L1059.3 2826.3L1059.9 2828.8L1060.4 2831.4L1060.9 2833.9L1061.3 2836.4L1061.8 2839.1L1062.2 2841.7L1062.6 2844.1L1063.1 2846.7L1063.6 2849.4L1064.0 2851.8L1064.7 2854.5L1065.4 2856.9L1066.2 2859.5L1066.7 2862.0L1067.3 2864.4L1068.1 2867.0L1068.7 2869.3L1069.7 2871.9L1070.6 2874.3L1071.6 2876.5L1072.8 2878.9L1074.0 2881.5L1075.4 2883.5L1076.5 2885.7L1078.0 2887.9L1079.4 2890.2L1081.3 2892.2L1082.9 2893.8L1084.9 2895.8L1086.8 2897.3L1089.2 2898.7L1091.4 2899.8L1093.7 2900.6L1096.1 2902.2L1098.6 2903.0L1101.1 2903.9L1103.6 2904.5L1106.2 2905.2L1108.8 2905.0L1111.2 2905.7L1113.8 2906.7L1116.4 2906.9L1119.1 2907.3L1121.7 2907.5L1124.2 2908.2L1126.7 2908.0L1129.4 2908.2L1131.9 2908.8L1134.6 2908.8L1137.1 2909.2L1139.8 2908.4L1142.4 2908.6L1144.9 2909.0L1147.5 2909.4L1150.2 2909.2L1152.7 2909.7L1155.3 2910.3L1157.9 2909.7L1160.5 2909.9L1163.1 2910.5L1165.7 2910.0L1168.3 2910.1L1170.9 2910.0L1173.5 2909.8L1176.1 2910.4L1178.7 2910.7L1181.3 2910.3L1183.9 2910.4L1186.5 2910.8L1189.1 2910.9L1191.7 2911.4L1194.3 2911.4L1196.9 2910.8L1199.5 2910.6L1202.1 2911.0L1204.7 2911.1L1207.3 2910.7L1209.9 2910.5L1212.5 2910.6L1215.1 2910.4L1217.7 2910.9L1220.3 2911.0L1222.9 2910.1L1225.4 2910.8L1228.1 2911.0L1230.7 2911.3L1233.2 2910.3L1235.8 2910.8L1238.5 2909.8L1241.0 2910.3L1243.7 2909.4L1246.2 2908.9L1248.8 2908.7L1251.4 2908.5L1254.0 2908.4L1256.5 2908.8L1259.1 2908.5L1261.7 2907.5L1264.3 2907.8L1266.9 2906.8L1269.5 2906.6L1272.0 2906.9L1274.7 2905.8L1277.2 2905.6L1279.8 2906.1L1282.4 2905.6L1285.0 2905.1L1287.5 2905.1L1290.1 2904.9L1292.8 2904.1L1295.3 2903.5L1297.9 2903.3L1300.4 2903.1L1303.0 2902.8L1305.5 2902.3L1308.1 2902.2L1310.7 2901.7L1313.2 2901.3L1315.7 2900.8L1318.3 2900.2L1320.9 2899.3L1323.5 2898.8L1326.1 2898.3L1328.5 2898.0L1331.2 2897.8L1333.7 2897.5L1336.2 2896.3L1338.8 2896.2L1341.4 2895.9L1343.8 2895.1L1346.4 2894.0L1348.9 2893.6L1351.4 2893.0L1353.9 2892.1L1356.4 2891.4L1359.1 2891.7L1361.6 2890.7L1364.2 2890.2L1366.7 2890.1L1369.4 2890.2L1372.0 2889.5L1374.5 2890.0L1377.2 2889.5L1379.7 2889.9L1382.3 2889.6L1384.9 2889.8L1387.5 2889.1L1390.1 2890.1L1392.7 2889.9L1395.3 2889.9L1397.9 2890.4L1400.5 2890.4L1403.1 2891.2L1405.6 2890.9L1408.3 2891.3L1410.9 2891.4L1413.4 2891.5L1416.0 2891.9L1418.7 2892.0L1421.2 2891.0L1423.8 2890.6L1426.1 2889.9L1428.4 2888.4L1430.3 2886.7L1432.2 2885.4L1434.4 2883.7L1436.6 2882.4L1438.7 2881.2L1441.4 2880.5L1443.9 2881.1L1446.3 2881.5L1448.5 2883.3L1450.3 2885.1L1452.4 2886.9L1454.3 2888.6L1456.3 2889.6L1458.7 2891.1L1461.2 2892.1L1463.7 2892.5L1466.3 2892.7L1468.8 2892.5L1471.3 2891.9L1473.7 2890.7L1475.8 2889.0L1477.9 2887.3L1479.8 2886.0L1481.5 2883.8L1483.3 2882.0L1484.8 2879.9L1486.3 2877.9L1487.7 2875.6L1489.3 2873.3L1490.4 2871.0L1491.8 2868.7L1492.8 2866.5L1493.8 2864.1L1494.9 2861.8L1496.0 2859.2L1496.9 2856.8L1497.8 2854.5L1498.6 2851.9L1499.3 2849.6L1500.2 2846.9L1501.0 2844.4L1501.5 2842.1L1502.4 2839.5L1502.9 2837.0L1503.6 2834.4L1504.3 2832.0L1505.0 2829.3L1505.8 2826.9L1506.2 2824.3L1507.1 2821.9L1507.6 2819.5L1508.1 2816.8L1508.8 2814.4L1509.4 2811.8L1510.2 2809.3L1510.8 2806.6L1511.3 2804.2L1512.0 2801.7L1512.7 2799.3L1513.4 2796.8L1514.0 2794.3L1514.6 2791.5L1515.4 2789.1L1516.1 2786.8L1516.8 2784.1L1517.7 2781.6L1518.3 2779.3L1519.3 2776.9L1520.4 2774.4L1521.9 2772.3L1523.9 2770.8L1526.2 2770.6L1528.4 2771.7L1529.7 2774.1L1530.8 2776.4L1531.8 2778.8L1532.7 2781.3L1533.5 2783.7L1534.4 2786.2L1535.2 2788.6L1535.7 2791.1L1536.2 2793.7L1536.9 2796.3L1537.5 2798.8L1538.1 2801.3L1538.8 2803.9L1539.4 2806.4L1539.9 2808.9L1540.5 2811.4L1541.1 2813.9L1541.8 2816.5L1542.4 2818.9L1542.9 2821.6L1543.4 2824.1L1543.9 2826.7L1544.6 2829.1L1545.2 2831.6L1545.7 2834.2L1546.3 2836.8L1546.9 2839.4L1547.3 2841.8L1548.0 2844.3L1548.8 2846.9L1549.5 2849.4L1549.9 2851.9L1550.8 2854.3L1551.5 2856.9L1552.1 2859.5L1552.9 2862.0L1553.7 2864.5L1554.3 2866.9L1555.1 2869.4L1556.2 2871.7L1557.1 2874.3L1558.2 2876.5L1559.3 2879.0L1560.2 2881.3L1561.3 2883.7L1562.6 2886.0L1563.9 2888.2L1565.2 2890.4L1566.8 2892.4L1568.1 2894.8L1570.0 2896.5L1571.6 2898.4L1573.7 2900.5L1575.5 2902.0L1577.7 2903.6L1579.9 2905.0L1582.2 2906.1L1584.6 2907.5L1586.9 2908.5L1589.5 2909.3L1591.8 2909.8L1594.3 2911.0L1596.8 2911.7L1599.3 2911.9L1601.8 2913.1L1604.3 2913.4L1606.9 2914.4L1609.5 2913.9L1612.1 2914.6L1614.7 2914.6L1617.3 2915.0L1619.8 2915.4L1622.4 2916.1L1625.0 2915.9L1627.6 2916.0L1630.2 2916.4L1632.7 2917.2L1635.3 2916.8L1637.9 2917.0L1640.5 2917.5L1643.1 2917.6L1645.7 2917.6L1648.3 2917.7L1650.9 2917.8L1653.5 2918.1L1656.1 2918.3L1658.7 2918.2L1661.3 2918.8L1663.9 2918.9L1666.5 2918.6L1669.1 2919.1L1671.7 2918.6L1674.3 2918.7L1676.9 2918.4L1679.5 2918.8L1682.1 2918.9L1684.7 2918.9L1687.3 2918.7L1689.9 2918.6L1692.5 2917.8L1695.1 2917.7L1697.7 2917.8L1700.3 2917.6L1702.9 2917.9L1705.4 2917.3L1708.0 2916.6L1710.6 2916.4L1713.1 2916.3L1715.5 2915.1L1718.2 2914.6L1720.6 2913.3L1723.0 2913.2L1725.7 2912.5L1728.2 2911.7L1730.7 2911.9L1733.3 2911.7L1735.8 2912.2L1738.5 2912.7L1740.8 2913.5L1743.4 2913.9L1746.0 2914.3L1748.5 2915.0L1751.1 2915.7L1753.7 2915.5L1756.3 2916.4L1758.8 2916.5L1761.4 2916.5L1764.0 2916.4L1766.6 2917.1L1769.2 2917.3L1771.8 2917.2L1774.4 2916.8L1777.0 2916.5L1779.6 2917.0L1782.2 2917.1L1784.8 2916.7L1787.4 2917.4L1790.0 2917.2L1792.6 2917.2L1795.2 2916.9L1797.8 2916.9L1800.4 2916.3L1803.0 2916.4L1805.6 2916.3L1808.2 2916.5L1810.8 2916.0L1813.4 2915.4L1816.0 2915.6L1818.5 2915.9L1821.2 2915.5L1823.7 2915.1L1826.4 2915.2L1828.9 2915.0L1831.6 2915.7L1833.8 2916.8L1836.4 2917.6L1838.8 2918.1L1841.4 2918.4L1843.9 2919.5L1846.4 2920.5L1848.9 2921.0L1851.5 2921.6L1854.0 2922.3L1856.5 2921.8L1859.2 2922.4L1861.7 2922.5L1864.4 2922.7L1866.9 2923.9L1869.5 2923.8L1872.1 2923.5L1874.7 2923.2L1877.3 2924.0L1879.9 2923.0L1882.5 2923.2L1885.1 2923.1L1887.7 2924.1L1890.3 2923.3L1892.9 2923.0L1895.5 2923.5L1898.1 2922.7L1900.7 2922.5L1903.3 2922.6L1905.8 2922.2L1908.3 2921.2L1911.0 2921.3L1913.4 2920.5L1915.9 2919.3L1918.4 2919.0L1920.9 2918.0L1923.5 2917.6L1925.9 2916.5L1928.6 2915.8L1931.1 2915.8L1933.5 2914.8L1936.1 2914.2L1938.7 2914.8L1941.3 2914.5L1943.9 2913.8L1946.5 2914.8L1948.8 2915.3L1951.4 2916.2L1953.9 2916.9L1956.4 2918.2L1958.7 2919.1L1961.0 2920.1L1963.4 2921.0L1966.0 2921.9L1968.4 2922.7L1970.9 2923.0L1973.4 2924.1L1976.1 2924.9L1978.5 2925.3L1981.0 2925.6L1983.6 2926.5L1986.1 2926.0L1988.7 2926.1L1991.4 2926.4L1994.0 2926.9L1996.5 2926.9L1999.1 2927.4L2001.7 2927.2L2004.3 2927.2L2006.9 2927.2L2009.5 2927.2L2012.1 2927.1L2014.7 2927.5L2017.3 2927.4L2019.9 2926.8L2022.5 2927.5L2025.1 2927.1L2027.7 2926.8L2030.3 2926.8L2032.9 2927.3L2035.5 2926.7L2038.1 2926.6L2040.7 2926.7L2043.3 2926.9L2045.9 2926.8L2048.5 2927.4L2051.1 2926.8L2053.7 2927.3L2056.3 2927.6L2058.9 2927.1L2061.5 2926.8L2064.1 2926.8L2066.7 2926.7L2069.3 2926.8L2069.8 2926.7"/>
</g>
<g>
<text transform="translate(85.65 3038.00) scale(1.0802 1)" font-family='"Liberation Sans", sans-serif' font-size="37.87" font-weight="normal" fill="#000" stroke="#000" stroke-width="1.3" stroke-linejoin="round">5</text>
<text transform="translate(190.25 3038.00) scale(1.0940 1)" font-family='"Liberation Sans", sans-serif' font-size="37.87" font-weight="normal" fill="#000" stroke="#000" stroke-width="1.3" stroke-linejoin="round">10</text>
<text transform="translate(306.10 3038.00) scale(1.0995 1)" font-family='"Liberation Sans", sans-serif' font-size="37.87" font-weight="normal" fill="#000" stroke="#000" stroke-width="1.3" stroke-linejoin="round">15</text>
<text transform="translate(423.08 3038.00) scale(1.0673 1)" font-family='"Liberation Sans", sans-serif' font-size="37.87" font-weight="normal" fill="#000" stroke="#000" stroke-width="1.3" stroke-linejoin="round">20</text>
<text transform="translate(538.94 3038.00) scale(1.0726 1)" font-family='"Liberation Sans", sans-serif' font-size="37.87" font-weight="normal" fill="#000" stroke="#000" stroke-width="1.3" stroke-linejoin="round">25</text>
<text transform="translate(655.24 3038.00) scale(1.0570 1)" font-family='"Liberation Sans", sans-serif' font-size="37.87" font-weight="normal" fill="#000" stroke="#000" stroke-width="1.3" stroke-linejoin="round">30</text>
<text transform="translate(771.10 3038.00) scale(1.0622 1)" font-family='"Liberation Sans", sans-serif' font-size="37.87" font-weight="normal" fill="#000" stroke="#000" stroke-width="1.3" stroke-linejoin="round">35</text>
<text transform="translate(887.79 3038.00) scale(1.0370 1)" font-family='"Liberation Sans", sans-serif' font-size="37.87" font-weight="normal" fill="#000" stroke="#000" stroke-width="1.3" stroke-linejoin="round">40</text>
<text transform="translate(1003.66 3038.00) scale(1.0419 1)" font-family='"Liberation Sans", sans-serif' font-size="37.87" font-weight="normal" fill="#000" stroke="#000" stroke-width="1.3" stroke-linejoin="round">45</text>
<text transform="translate(1118.72 3038.00) scale(1.0570 1)" font-family='"Liberation Sans", sans-serif' font-size="37.87" font-weight="normal" fill="#000" stroke="#000" stroke-width="1.3" stroke-linejoin="round">50</text>
<text transform="translate(1234.58 3038.00) scale(1.0622 1)" font-family='"Liberation Sans", sans-serif' font-size="37.87" font-weight="normal" fill="#000" stroke="#000" stroke-width="1.3" stroke-linejoin="round">55</text>
<text transform="translate(1350.04 3038.00) scale(1.0673 1)" font-family='"Liberation Sans", sans-serif' font-size="37.87" font-weight="normal" fill="#000" stroke="#000" stroke-width="1.3" stroke-linejoin="round">60</text>
<text transform="translate(1465.90 3038.00) scale(1.0726 1)" font-family='"Liberation Sans", sans-serif' font-size="37.87" font-weight="normal" fill="#000" stroke="#000" stroke-width="1.3" stroke-linejoin="round">65</text>
<text transform="translate(1581.78 3038.00) scale(1.0673 1)" font-family='"Liberation Sans", sans-serif' font-size="37.87" font-weight="normal" fill="#000" stroke="#000" stroke-width="1.3" stroke-linejoin="round">70</text>
<text transform="translate(1697.64 3038.00) scale(1.0726 1)" font-family='"Liberation Sans", sans-serif' font-size="37.87" font-weight="normal" fill="#000" stroke="#000" stroke-width="1.3" stroke-linejoin="round">75</text>
<text transform="translate(1813.73 3038.00) scale(1.0622 1)" font-family='"Liberation Sans", sans-serif' font-size="37.87" font-weight="normal" fill="#000" stroke="#000" stroke-width="1.3" stroke-linejoin="round">80</text>
<text transform="translate(1929.60 3038.00) scale(1.0673 1)" font-family='"Liberation Sans", sans-serif' font-size="37.87" font-weight="normal" fill="#000" stroke="#000" stroke-width="1.3" stroke-linejoin="round">85</text>
<text transform="translate(2045.47 3038.00) scale(1.0622 1)" font-family='"Liberation Sans", sans-serif' font-size="37.87" font-weight="normal" fill="#000" stroke="#000" stroke-width="1.3" stroke-linejoin="round">90</text>
</g>
<text transform="translate(71.00 0) rotate(-90)" stroke-linejoin="round"><tspan x="-2706.31" y="0.00" font-family='"Liberation Sans", sans-serif' font-size="60.03" font-weight="normal" fill="#000" stroke="#000" stroke-width="2.5" textLength="249.49" lengthAdjust="spacingAndGlyphs">Intensity</tspan> <tspan x="-2439.23" y="0.00" font-family='"Liberation Sans", sans-serif' font-size="60.03" font-weight="normal" fill="#000" stroke="#000" stroke-width="2.5" textLength="236.74" lengthAdjust="spacingAndGlyphs">[Counts,</tspan> <tspan x="-2186.43" y="0.00" font-family='"Liberation Sans", sans-serif' font-size="60.03" font-weight="normal" fill="#000" stroke="#000" stroke-width="2.5" textLength="271.70" lengthAdjust="spacingAndGlyphs">arbitrary]</tspan></text>
<text stroke-linejoin="round"><tspan x="888.93" y="3129.60" font-family='"Liberation Sans", sans-serif' font-size="58.73" font-weight="normal" fill="#000" stroke="#000" stroke-width="2.5" textLength="230.81" lengthAdjust="spacingAndGlyphs">Position</tspan> <tspan x="1137.49" y="3129.60" font-family='"Liberation Sans", sans-serif' font-size="58.73" font-weight="normal" fill="#000" stroke="#000" stroke-width="2.5" textLength="137.02" lengthAdjust="spacingAndGlyphs">[°2θ]</tspan></text>
<text stroke-linejoin="round"><tspan x="952.08" y="1765.50" font-family='"Liberation Sans", sans-serif' font-size="60.83" font-weight="normal" fill="#000" stroke="#000" stroke-width="2.5" textLength="78.39" lengthAdjust="spacingAndGlyphs">(b)</tspan></text>
<text stroke-linejoin="round"><tspan x="1345.85" y="1786.04" font-family='"DejaVu Sans", "Liberation Sans", sans-serif' font-size="46.74" font-weight="normal" fill="#000" stroke="#000" stroke-width="0.9" textLength="23.30" lengthAdjust="spacingAndGlyphs">*</tspan> <tspan x="1388.06" y="1788.90" font-family='"Liberation Sans", sans-serif' font-size="49.75" font-weight="normal" fill="#000" stroke="#000" stroke-width="1.9" textLength="438.17" lengthAdjust="spacingAndGlyphs">AlO(OH), Böhmite</tspan></text>
<text stroke-linejoin="round"><tspan x="1364.73" y="1913.20" font-family='"Liberation Sans", sans-serif' font-size="55.36" font-weight="normal" fill="#000" stroke="#000" stroke-width="1.4" textLength="22.14" lengthAdjust="spacingAndGlyphs">°</tspan> <tspan x="1400.48" y="1911.00" font-family='"Liberation Sans", sans-serif' font-size="49.75" font-weight="normal" fill="#000" stroke="#000" stroke-width="1.9" textLength="238.28" lengthAdjust="spacingAndGlyphs">γ-alumina</tspan></text>
<text stroke-linejoin="round"><tspan x="1368.56" y="1995.97" font-family='"Liberation Sans", sans-serif' font-size="60.26" font-weight="normal" fill="#000" stroke="#000" stroke-width="1.0" textLength="26.93" lengthAdjust="spacingAndGlyphs">«</tspan> <tspan x="1411.24" y="1992.70" font-family='"Liberation Sans", sans-serif' font-size="49.75" font-weight="normal" fill="#000" stroke="#000" stroke-width="1.9" textLength="92.97" lengthAdjust="spacingAndGlyphs">NiO</tspan></text>
<text stroke-linejoin="round"><tspan x="1802.05" y="2295.90" font-family='"Liberation Sans", sans-serif' font-size="62.19" font-weight="normal" fill="#04668f" stroke="#04668f" stroke-width="3.0" textLength="55.52" lengthAdjust="spacingAndGlyphs">Al</tspan><tspan x="1857.66" y="2312.00" font-family='"Liberation Sans", sans-serif' font-size="40.67" font-weight="normal" fill="#04668f" stroke="#04668f" stroke-width="2.1" textLength="23.24" lengthAdjust="spacingAndGlyphs">2</tspan><tspan x="1882.67" y="2295.90" font-family='"Liberation Sans", sans-serif' font-size="60.39" font-weight="normal" fill="#04668f" stroke="#04668f" stroke-width="3.0" textLength="44.51" lengthAdjust="spacingAndGlyphs">O</tspan><tspan x="1927.94" y="2312.00" font-family='"Liberation Sans", sans-serif' font-size="40.67" font-weight="normal" fill="#04668f" stroke="#04668f" stroke-width="2.1" textLength="22.26" lengthAdjust="spacingAndGlyphs">3</tspan></text>
<text stroke-linejoin="round"><tspan x="1749.40" y="2607.60" font-family='"Liberation Sans", sans-serif' font-size="58.09" font-weight="normal" fill="#00721c" stroke="#00721c" stroke-width="3.0" textLength="60.82" lengthAdjust="spacingAndGlyphs">Ni</tspan><tspan x="1811.80" y="2617.10" font-family='"Liberation Sans", sans-serif' font-size="79.86" font-weight="normal" fill="#00721c" stroke="#00721c" stroke-width="0.8" textLength="27.78" lengthAdjust="spacingAndGlyphs">/</tspan><tspan x="1842.85" y="2607.60" font-family='"Liberation Sans", sans-serif' font-size="58.09" font-weight="normal" fill="#00721c" stroke="#00721c" stroke-width="3.0" textLength="55.09" lengthAdjust="spacingAndGlyphs">Al</tspan><tspan x="1899.64" y="2625.80" font-family='"Liberation Sans", sans-serif' font-size="41.17" font-weight="normal" fill="#00721c" stroke="#00721c" stroke-width="2.1" textLength="22.25" lengthAdjust="spacingAndGlyphs">2</tspan><tspan x="1924.57" y="2607.60" font-family='"Liberation Sans", sans-serif' font-size="56.39" font-weight="normal" fill="#00721c" stroke="#00721c" stroke-width="3.0" textLength="44.51" lengthAdjust="spacingAndGlyphs">O</tspan><tspan x="1969.84" y="2625.80" font-family='"Liberation Sans", sans-serif' font-size="41.17" font-weight="normal" fill="#00721c" stroke="#00721c" stroke-width="2.1" textLength="22.37" lengthAdjust="spacingAndGlyphs">3</tspan></text>
<text stroke-linejoin="round"><tspan x="1636.76" y="2879.30" font-family='"Liberation Sans", sans-serif' font-size="58.79" font-weight="normal" fill="#ff742a" stroke="#ff742a" stroke-width="3.0" textLength="58.91" lengthAdjust="spacingAndGlyphs">Ni</tspan><tspan x="1699.00" y="2888.81" font-family='"Liberation Sans", sans-serif' font-size="78.78" font-weight="normal" fill="#ff742a" stroke="#ff742a" stroke-width="0.8" textLength="25.41" lengthAdjust="spacingAndGlyphs">/</tspan><tspan x="1730.55" y="2879.30" font-family='"Liberation Sans", sans-serif' font-size="58.79" font-weight="normal" fill="#ff742a" stroke="#ff742a" stroke-width="3.0" textLength="55.20" lengthAdjust="spacingAndGlyphs">Al</tspan><tspan x="1786.01" y="2896.50" font-family='"Liberation Sans", sans-serif' font-size="40.17" font-weight="normal" fill="#ff742a" stroke="#ff742a" stroke-width="2.1" textLength="22.63" lengthAdjust="spacingAndGlyphs">2</tspan><tspan x="1811.79" y="2879.30" font-family='"Liberation Sans", sans-serif' font-size="57.39" font-weight="normal" fill="#ff742a" stroke="#ff742a" stroke-width="3.0" textLength="44.17" lengthAdjust="spacingAndGlyphs">O</tspan><tspan x="1856.69" y="2896.50" font-family='"Liberation Sans", sans-serif' font-size="40.17" font-weight="normal" fill="#ff742a" stroke="#ff742a" stroke-width="2.1" textLength="20.27" lengthAdjust="spacingAndGlyphs">3</tspan><tspan x="1880.29" y="2872.83" font-family='"Liberation Sans", sans-serif' font-size="155.00" font-weight="bold" fill="#ff742a" textLength="32.60" lengthAdjust="spacingAndGlyphs">_</tspan><tspan x="1914.42" y="2879.30" font-family='"Liberation Sans", sans-serif' font-size="58.79" font-weight="normal" fill="#ff742a" stroke="#ff742a" stroke-width="3.0" textLength="84.93" lengthAdjust="spacingAndGlyphs">Cal</tspan></text>
<g>
<text transform="translate(1515.73 2770.10) scale(1.0000 1)" font-family='"Liberation Sans", sans-serif' font-size="42.86" font-weight="normal" fill="#111" stroke="#111" stroke-width="0.9">°</text>
<text transform="translate(842.13 2764.60) scale(1.0000 1)" font-family='"Liberation Sans", sans-serif' font-size="42.86" font-weight="normal" fill="#111" stroke="#111" stroke-width="0.9">°</text>
<text transform="translate(1039.83 2760.40) scale(1.0000 1)" font-family='"Liberation Sans", sans-serif' font-size="42.86" font-weight="normal" fill="#111" stroke="#111" stroke-width="0.9">°</text>
<text transform="translate(425.83 2850.80) scale(1.0000 1)" font-family='"Liberation Sans", sans-serif' font-size="42.86" font-weight="normal" fill="#111" stroke="#111" stroke-width="0.9">°</text>
<text transform="translate(703.83 2856.50) scale(1.0000 1)" font-family='"Liberation Sans", sans-serif' font-size="42.86" font-weight="normal" fill="#111" stroke="#111" stroke-width="0.9">°</text>
<text transform="translate(1378.33 2892.50) scale(1.0000 1)" font-family='"Liberation Sans", sans-serif' font-size="42.86" font-weight="normal" fill="#111" stroke="#111" stroke-width="0.9">°</text>
<text transform="translate(306.77 2027.43) scale(0.9601 1)" font-family='"DejaVu Sans", "Liberation Sans", sans-serif' font-size="42.61" font-weight="normal" fill="#111" stroke="#111" stroke-width="0.6">*</text>
<text transform="translate(630.07 2177.53) scale(0.9601 1)" font-family='"DejaVu Sans", "Liberation Sans", sans-serif' font-size="42.61" font-weight="normal" fill="#111" stroke="#111" stroke-width="0.6">*</text>
<text transform="translate(630.07 2339.33) scale(0.9601 1)" font-family='"DejaVu Sans", "Liberation Sans", sans-serif' font-size="42.61" font-weight="normal" fill="#111" stroke="#111" stroke-width="0.6">*</text>
<text transform="translate(860.67 2201.33) scale(0.9601 1)" font-family='"DejaVu Sans", "Liberation Sans", sans-serif' font-size="42.61" font-weight="normal" fill="#111" stroke="#111" stroke-width="0.6">*</text>
<text transform="translate(862.57 2345.63) scale(0.9601 1)" font-family='"DejaVu Sans", "Liberation Sans", sans-serif' font-size="42.61" font-weight="normal" fill="#111" stroke="#111" stroke-width="0.6">*</text>
<text transform="translate(1114.37 2218.53) scale(0.9601 1)" font-family='"DejaVu Sans", "Liberation Sans", sans-serif' font-size="42.61" font-weight="normal" fill="#111" stroke="#111" stroke-width="0.6">*</text>
<text transform="translate(1112.47 2388.43) scale(0.9601 1)" font-family='"DejaVu Sans", "Liberation Sans", sans-serif' font-size="42.61" font-weight="normal" fill="#111" stroke="#111" stroke-width="0.6">*</text>
<text transform="translate(1472.77 2309.53) scale(0.9601 1)" font-family='"DejaVu Sans", "Liberation Sans", sans-serif' font-size="42.61" font-weight="normal" fill="#111" stroke="#111" stroke-width="0.6">*</text>
<text transform="translate(1634.57 2349.73) scale(0.9601 1)" font-family='"DejaVu Sans", "Liberation Sans", sans-serif' font-size="42.61" font-weight="normal" fill="#111" stroke="#111" stroke-width="0.6">*</text>
<text transform="translate(1954.77 2360.53) scale(0.9601 1)" font-family='"DejaVu Sans", "Liberation Sans", sans-serif' font-size="42.61" font-weight="normal" fill="#111" stroke="#111" stroke-width="0.6">*</text>
<text transform="translate(1462.77 2570.93) scale(0.9601 1)" font-family='"DejaVu Sans", "Liberation Sans", sans-serif' font-size="42.61" font-weight="normal" fill="#111" stroke="#111" stroke-width="0.6">*</text>
<text transform="translate(1640.77 2572.73) scale(0.9601 1)" font-family='"DejaVu Sans", "Liberation Sans", sans-serif' font-size="42.61" font-weight="normal" fill="#111" stroke="#111" stroke-width="0.6">*</text>
<text transform="translate(1964.47 2661.93) scale(0.9601 1)" font-family='"DejaVu Sans", "Liberation Sans", sans-serif' font-size="42.61" font-weight="normal" fill="#111" stroke="#111" stroke-width="0.6">*</text>
<text transform="translate(839.35 2711.94) scale(0.7416 1)" font-family='"Liberation Sans", sans-serif' font-size="55.64" font-weight="normal" fill="#111" stroke="#111" stroke-width="0.6">«</text>
<text transform="translate(977.65 2823.54) scale(0.7416 1)" font-family='"Liberation Sans", sans-serif' font-size="55.64" font-weight="normal" fill="#111" stroke="#111" stroke-width="0.6">«</text>
<text transform="translate(1425.55 2857.74) scale(0.7416 1)" font-family='"Liberation Sans", sans-serif' font-size="55.64" font-weight="normal" fill="#111" stroke="#111" stroke-width="0.6">«</text>
</g>
</g>
</svg></body></html>
